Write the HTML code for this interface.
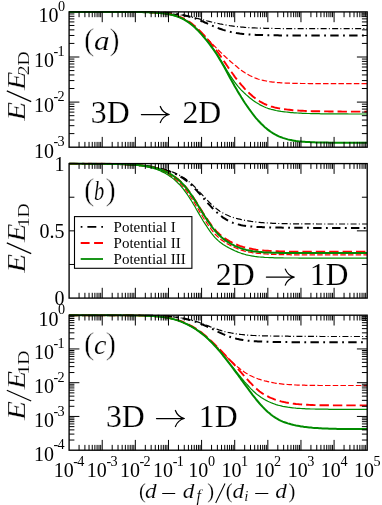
<!DOCTYPE html>
<html><head><meta charset="utf-8"><title>chart</title>
<style>html,body{margin:0;padding:0;background:#fff}svg{display:block;will-change:transform}text{font-family:"Liberation Serif",serif;fill:#000}.cm2{stroke:#fff;stroke-width:0.3px;paint-order:fill stroke}.cm3{stroke:#fff;stroke-width:0.15px;paint-order:fill stroke}.cm4{stroke:#fff;stroke-width:0.12px;paint-order:fill stroke}.cm{stroke:#fff;stroke-width:0.5px;paint-order:fill stroke}</style>
</head><body>
<svg width="382" height="505" viewBox="0 0 382 505">
<rect width="382" height="505" fill="#fff"/>
<clipPath id="clipa"><rect x="69.1" y="10.85" width="298.1" height="137.39999999999998"/></clipPath>
<g clip-path="url(#clipa)" fill="none" stroke-linecap="butt" stroke-linejoin="round">
<path d="M69.1 11.9 L70.8 11.9 L72.4 11.9 L74.1 11.9 L75.7 11.9 L77.4 11.9 L79.0 11.9 L80.7 11.9 L82.3 11.9 L84.0 11.9 L85.7 11.9 L87.3 11.9 L89.0 11.9 L90.6 11.9 L92.3 11.9 L93.9 11.9 L95.6 11.9 L97.3 11.9 L98.9 11.9 L100.6 11.9 L102.2 11.9 L103.9 11.9 L105.5 11.9 L107.2 11.9 L108.8 11.9 L110.5 12.0 L112.2 12.0 L113.8 12.0 L115.5 12.0 L117.1 12.0 L118.8 12.0 L120.4 12.0 L122.1 12.0 L123.8 12.0 L125.4 12.0 L127.1 12.0 L128.7 12.1 L130.4 12.1 L132.0 12.1 L133.7 12.1 L135.3 12.1 L137.0 12.2 L138.7 12.2 L140.3 12.2 L142.0 12.3 L143.6 12.3 L145.3 12.3 L146.9 12.4 L148.6 12.4 L150.2 12.5 L151.9 12.6 L153.6 12.6 L155.2 12.7 L156.9 12.8 L158.5 12.9 L160.2 13.0 L161.8 13.1 L163.5 13.2 L165.2 13.3 L166.8 13.4 L168.5 13.6 L170.1 13.7 L171.8 13.9 L173.4 14.1 L175.1 14.3 L176.7 14.5 L178.4 14.7 L180.1 15.0 L181.7 15.2 L183.4 15.5 L185.0 15.8 L186.7 16.1 L188.3 16.4 L190.0 16.8 L191.7 17.1 L193.3 17.5 L195.0 17.9 L196.6 18.3 L198.3 18.7 L199.9 19.1 L201.6 19.5 L203.2 19.9 L204.9 20.3 L206.6 20.7 L208.2 21.2 L209.9 21.6 L211.5 22.0 L213.2 22.4 L214.8 22.8 L216.5 23.2 L218.2 23.5 L219.8 23.9 L221.5 24.2 L223.1 24.5 L224.8 24.8 L226.4 25.1 L228.1 25.4 L229.7 25.7 L231.4 25.9 L233.1 26.1 L234.7 26.4 L236.4 26.5 L238.0 26.7 L239.7 26.9 L241.3 27.1 L243.0 27.2 L244.6 27.3 L246.3 27.5 L248.0 27.6 L249.6 27.7 L251.3 27.8 L252.9 27.9 L254.6 27.9 L256.2 28.0 L257.9 28.1 L259.6 28.1 L261.2 28.2 L262.9 28.2 L264.5 28.3 L266.2 28.3 L267.8 28.4 L269.5 28.4 L271.1 28.4 L272.8 28.5 L274.5 28.5 L276.1 28.5 L277.8 28.5 L279.4 28.5 L281.1 28.6 L282.7 28.6 L284.4 28.6 L286.1 28.6 L287.7 28.6 L289.4 28.6 L291.0 28.6 L292.7 28.6 L294.3 28.7 L296.0 28.7 L297.6 28.7 L299.3 28.7 L301.0 28.7 L302.6 28.7 L304.3 28.7 L305.9 28.7 L307.6 28.7 L309.2 28.7 L310.9 28.7 L312.5 28.7 L314.2 28.7 L315.9 28.7 L317.5 28.7 L319.2 28.7 L320.8 28.7 L322.5 28.7 L324.1 28.7 L325.8 28.7 L327.5 28.7 L329.1 28.7 L330.8 28.7 L332.4 28.7 L334.1 28.7 L335.7 28.7 L337.4 28.7 L339.0 28.7 L340.7 28.7 L342.4 28.7 L344.0 28.7 L345.7 28.7 L347.3 28.7 L349.0 28.7 L350.6 28.7 L352.3 28.7 L354.0 28.7 L355.6 28.7 L357.3 28.7 L358.9 28.7 L360.6 28.7 L362.2 28.7 L363.9 28.7 L365.5 28.7 L367.2 28.7" stroke="#000" stroke-width="1.2" stroke-dasharray="6 2.2 1 2.3"/>
<path d="M69.1 11.9 L70.8 11.9 L72.4 11.9 L74.1 11.9 L75.7 11.9 L77.4 11.9 L79.0 11.9 L80.7 11.9 L82.3 11.9 L84.0 11.9 L85.7 11.9 L87.3 11.9 L89.0 11.9 L90.6 11.9 L92.3 11.9 L93.9 11.9 L95.6 11.9 L97.3 11.9 L98.9 11.9 L100.6 11.9 L102.2 11.9 L103.9 11.9 L105.5 11.9 L107.2 11.9 L108.8 11.9 L110.5 11.9 L112.2 11.9 L113.8 11.9 L115.5 11.9 L117.1 11.9 L118.8 11.9 L120.4 11.9 L122.1 11.9 L123.8 11.9 L125.4 11.9 L127.1 11.9 L128.7 12.0 L130.4 12.0 L132.0 12.0 L133.7 12.0 L135.3 12.0 L137.0 12.0 L138.7 12.0 L140.3 12.0 L142.0 12.0 L143.6 12.1 L145.3 12.1 L146.9 12.1 L148.6 12.1 L150.2 12.2 L151.9 12.2 L153.6 12.3 L155.2 12.3 L156.9 12.4 L158.5 12.4 L160.2 12.5 L161.8 12.6 L163.5 12.7 L165.2 12.8 L166.8 12.9 L168.5 13.0 L170.1 13.2 L171.8 13.3 L173.4 13.5 L175.1 13.7 L176.7 13.9 L178.4 14.2 L180.1 14.5 L181.7 14.8 L183.4 15.1 L185.0 15.5 L186.7 15.9 L188.3 16.3 L190.0 16.8 L191.7 17.3 L193.3 17.8 L195.0 18.4 L196.6 19.0 L198.3 19.7 L199.9 20.3 L201.6 21.0 L203.2 21.7 L204.9 22.5 L206.6 23.2 L208.2 23.9 L209.9 24.7 L211.5 25.4 L213.2 26.1 L214.8 26.8 L216.5 27.5 L218.2 28.1 L219.8 28.7 L221.5 29.3 L223.1 29.9 L224.8 30.4 L226.4 30.9 L228.1 31.3 L229.7 31.7 L231.4 32.1 L233.1 32.5 L234.7 32.8 L236.4 33.1 L238.0 33.3 L239.7 33.6 L241.3 33.8 L243.0 34.0 L244.6 34.1 L246.3 34.3 L248.0 34.4 L249.6 34.5 L251.3 34.6 L252.9 34.7 L254.6 34.8 L256.2 34.9 L257.9 35.0 L259.6 35.0 L261.2 35.1 L262.9 35.1 L264.5 35.2 L266.2 35.2 L267.8 35.2 L269.5 35.2 L271.1 35.3 L272.8 35.3 L274.5 35.3 L276.1 35.3 L277.8 35.3 L279.4 35.4 L281.1 35.4 L282.7 35.4 L284.4 35.4 L286.1 35.4 L287.7 35.4 L289.4 35.4 L291.0 35.4 L292.7 35.4 L294.3 35.4 L296.0 35.4 L297.6 35.4 L299.3 35.4 L301.0 35.4 L302.6 35.4 L304.3 35.4 L305.9 35.4 L307.6 35.4 L309.2 35.4 L310.9 35.4 L312.5 35.4 L314.2 35.4 L315.9 35.4 L317.5 35.4 L319.2 35.4 L320.8 35.4 L322.5 35.4 L324.1 35.4 L325.8 35.4 L327.5 35.4 L329.1 35.4 L330.8 35.4 L332.4 35.4 L334.1 35.4 L335.7 35.4 L337.4 35.4 L339.0 35.4 L340.7 35.4 L342.4 35.4 L344.0 35.4 L345.7 35.4 L347.3 35.4 L349.0 35.4 L350.6 35.4 L352.3 35.4 L354.0 35.4 L355.6 35.4 L357.3 35.4 L358.9 35.4 L360.6 35.4 L362.2 35.4 L363.9 35.4 L365.5 35.4 L367.2 35.4" stroke="#000" stroke-width="2.0" stroke-dasharray="8.4 4.4 1.8 4.3"/>
<path d="M69.1 11.9 L70.8 11.9 L72.4 11.9 L74.1 11.9 L75.7 11.9 L77.4 11.9 L79.0 11.9 L80.7 11.9 L82.3 11.9 L84.0 11.9 L85.7 11.9 L87.3 11.9 L89.0 11.9 L90.6 11.9 L92.3 11.9 L93.9 11.9 L95.6 11.9 L97.3 11.9 L98.9 11.9 L100.6 11.9 L102.2 11.9 L103.9 11.9 L105.5 11.9 L107.2 11.9 L108.8 11.9 L110.5 11.9 L112.2 11.9 L113.8 11.9 L115.5 11.9 L117.1 11.9 L118.8 11.9 L120.4 11.9 L122.1 11.9 L123.8 11.9 L125.4 12.0 L127.1 12.0 L128.7 12.0 L130.4 12.0 L132.0 12.0 L133.7 12.0 L135.3 12.0 L137.0 12.1 L138.7 12.1 L140.3 12.1 L142.0 12.1 L143.6 12.2 L145.3 12.2 L146.9 12.3 L148.6 12.3 L150.2 12.4 L151.9 12.4 L153.6 12.5 L155.2 12.6 L156.9 12.7 L158.5 12.9 L160.2 13.0 L161.8 13.2 L163.5 13.4 L165.2 13.6 L166.8 13.8 L168.5 14.1 L170.1 14.4 L171.8 14.8 L173.4 15.2 L175.1 15.7 L176.7 16.2 L178.4 16.8 L180.1 17.4 L181.7 18.1 L183.4 18.9 L185.0 19.8 L186.7 20.8 L188.3 21.9 L190.0 23.0 L191.7 24.2 L193.3 25.6 L195.0 27.0 L196.6 28.5 L198.3 30.0 L199.9 31.6 L201.6 33.2 L203.2 34.8 L204.9 36.4 L206.6 38.1 L208.2 39.7 L209.9 41.4 L211.5 43.1 L213.2 44.8 L214.8 46.4 L216.5 48.1 L218.2 49.8 L219.8 51.5 L221.5 53.1 L223.1 54.7 L224.8 56.3 L226.4 57.8 L228.1 59.3 L229.7 60.7 L231.4 62.2 L233.1 63.6 L234.7 65.0 L236.4 66.3 L238.0 67.7 L239.7 69.0 L241.3 70.2 L243.0 71.4 L244.6 72.6 L246.3 73.6 L248.0 74.6 L249.6 75.5 L251.3 76.3 L252.9 77.1 L254.6 77.8 L256.2 78.4 L257.9 79.0 L259.6 79.5 L261.2 79.9 L262.9 80.3 L264.5 80.7 L266.2 81.0 L267.8 81.3 L269.5 81.6 L271.1 81.8 L272.8 82.1 L274.5 82.2 L276.1 82.4 L277.8 82.6 L279.4 82.7 L281.1 82.8 L282.7 82.9 L284.4 83.0 L286.1 83.1 L287.7 83.1 L289.4 83.2 L291.0 83.3 L292.7 83.3 L294.3 83.3 L296.0 83.4 L297.6 83.4 L299.3 83.4 L301.0 83.5 L302.6 83.5 L304.3 83.5 L305.9 83.5 L307.6 83.5 L309.2 83.6 L310.9 83.6 L312.5 83.6 L314.2 83.6 L315.9 83.6 L317.5 83.6 L319.2 83.6 L320.8 83.6 L322.5 83.6 L324.1 83.6 L325.8 83.6 L327.5 83.6 L329.1 83.6 L330.8 83.6 L332.4 83.6 L334.1 83.6 L335.7 83.6 L337.4 83.6 L339.0 83.6 L340.7 83.6 L342.4 83.7 L344.0 83.7 L345.7 83.7 L347.3 83.7 L349.0 83.7 L350.6 83.7 L352.3 83.7 L354.0 83.7 L355.6 83.7 L357.3 83.7 L358.9 83.7 L360.6 83.7 L362.2 83.7 L363.9 83.7 L365.5 83.7 L367.2 83.7" stroke="#f00" stroke-width="1.2" stroke-dasharray="5.5 2.2"/>
<path d="M69.1 11.9 L70.8 11.9 L72.4 11.9 L74.1 11.9 L75.7 11.9 L77.4 11.9 L79.0 11.9 L80.7 11.9 L82.3 11.9 L84.0 11.9 L85.7 11.9 L87.3 11.9 L89.0 11.9 L90.6 11.9 L92.3 11.9 L93.9 11.9 L95.6 11.9 L97.3 11.9 L98.9 11.9 L100.6 11.9 L102.2 11.9 L103.9 11.9 L105.5 11.9 L107.2 11.9 L108.8 11.9 L110.5 11.9 L112.2 11.9 L113.8 11.9 L115.5 11.9 L117.1 11.9 L118.8 11.9 L120.4 11.9 L122.1 11.9 L123.8 11.9 L125.4 12.0 L127.1 12.0 L128.7 12.0 L130.4 12.0 L132.0 12.0 L133.7 12.0 L135.3 12.0 L137.0 12.0 L138.7 12.1 L140.3 12.1 L142.0 12.1 L143.6 12.1 L145.3 12.2 L146.9 12.2 L148.6 12.3 L150.2 12.3 L151.9 12.4 L153.6 12.5 L155.2 12.6 L156.9 12.7 L158.5 12.8 L160.2 12.9 L161.8 13.1 L163.5 13.2 L165.2 13.4 L166.8 13.7 L168.5 13.9 L170.1 14.2 L171.8 14.6 L173.4 14.9 L175.1 15.4 L176.7 15.9 L178.4 16.4 L180.1 17.0 L181.7 17.7 L183.4 18.4 L185.0 19.3 L186.7 20.2 L188.3 21.2 L190.0 22.3 L191.7 23.6 L193.3 24.9 L195.0 26.3 L196.6 27.7 L198.3 29.3 L199.9 30.9 L201.6 32.7 L203.2 34.4 L204.9 36.2 L206.6 38.1 L208.2 40.0 L209.9 42.0 L211.5 44.0 L213.2 46.1 L214.8 48.3 L216.5 50.5 L218.2 52.8 L219.8 55.1 L221.5 57.5 L223.1 60.0 L224.8 62.4 L226.4 64.8 L228.1 67.3 L229.7 69.7 L231.4 72.0 L233.1 74.3 L234.7 76.6 L236.4 78.8 L238.0 80.9 L239.7 82.9 L241.3 84.9 L243.0 86.7 L244.6 88.6 L246.3 90.3 L248.0 92.0 L249.6 93.5 L251.3 95.0 L252.9 96.5 L254.6 97.8 L256.2 99.0 L257.9 100.2 L259.6 101.3 L261.2 102.2 L262.9 103.1 L264.5 104.0 L266.2 104.7 L267.8 105.4 L269.5 105.9 L271.1 106.5 L272.8 106.9 L274.5 107.4 L276.1 107.8 L277.8 108.1 L279.4 108.4 L281.1 108.7 L282.7 109.0 L284.4 109.2 L286.1 109.4 L287.7 109.6 L289.4 109.8 L291.0 110.0 L292.7 110.2 L294.3 110.3 L296.0 110.4 L297.6 110.5 L299.3 110.6 L301.0 110.7 L302.6 110.8 L304.3 110.9 L305.9 111.0 L307.6 111.0 L309.2 111.1 L310.9 111.1 L312.5 111.2 L314.2 111.2 L315.9 111.3 L317.5 111.3 L319.2 111.3 L320.8 111.4 L322.5 111.4 L324.1 111.4 L325.8 111.4 L327.5 111.4 L329.1 111.5 L330.8 111.5 L332.4 111.5 L334.1 111.5 L335.7 111.5 L337.4 111.5 L339.0 111.5 L340.7 111.5 L342.4 111.6 L344.0 111.6 L345.7 111.6 L347.3 111.6 L349.0 111.6 L350.6 111.6 L352.3 111.6 L354.0 111.6 L355.6 111.6 L357.3 111.6 L358.9 111.6 L360.6 111.6 L362.2 111.6 L363.9 111.6 L365.5 111.6 L367.2 111.6" stroke="#f00" stroke-width="1.9" stroke-dasharray="9.4 4.0"/>
<path d="M69.1 11.9 L70.8 11.9 L72.4 11.9 L74.1 11.9 L75.7 11.9 L77.4 11.9 L79.0 11.9 L80.7 11.9 L82.3 11.9 L84.0 11.9 L85.7 11.9 L87.3 11.9 L89.0 11.9 L90.6 11.9 L92.3 11.9 L93.9 11.9 L95.6 11.9 L97.3 11.9 L98.9 11.9 L100.6 11.9 L102.2 11.9 L103.9 11.9 L105.5 11.9 L107.2 11.9 L108.8 11.9 L110.5 11.9 L112.2 11.9 L113.8 11.9 L115.5 11.9 L117.1 11.9 L118.8 11.9 L120.4 11.9 L122.1 11.9 L123.8 11.9 L125.4 12.0 L127.1 12.0 L128.7 12.0 L130.4 12.0 L132.0 12.0 L133.7 12.0 L135.3 12.0 L137.0 12.1 L138.7 12.1 L140.3 12.1 L142.0 12.1 L143.6 12.2 L145.3 12.2 L146.9 12.3 L148.6 12.3 L150.2 12.4 L151.9 12.5 L153.6 12.5 L155.2 12.6 L156.9 12.8 L158.5 12.9 L160.2 13.0 L161.8 13.2 L163.5 13.4 L165.2 13.6 L166.8 13.9 L168.5 14.2 L170.1 14.5 L171.8 14.9 L173.4 15.3 L175.1 15.8 L176.7 16.3 L178.4 16.9 L180.1 17.6 L181.7 18.3 L183.4 19.1 L185.0 20.0 L186.7 21.0 L188.3 22.1 L190.0 23.3 L191.7 24.6 L193.3 26.0 L195.0 27.5 L196.6 29.0 L198.3 30.7 L199.9 32.4 L201.6 34.3 L203.2 36.1 L204.9 38.1 L206.6 40.1 L208.2 42.1 L209.9 44.2 L211.5 46.4 L213.2 48.7 L214.8 51.0 L216.5 53.4 L218.2 56.0 L219.8 58.6 L221.5 61.2 L223.1 64.0 L224.8 66.7 L226.4 69.5 L228.1 72.2 L229.7 74.9 L231.4 77.4 L233.1 79.9 L234.7 82.2 L236.4 84.4 L238.0 86.4 L239.7 88.3 L241.3 90.1 L243.0 91.7 L244.6 93.3 L246.3 94.9 L248.0 96.3 L249.6 97.7 L251.3 99.0 L252.9 100.3 L254.6 101.5 L256.2 102.6 L257.9 103.6 L259.6 104.6 L261.2 105.4 L262.9 106.2 L264.5 107.0 L266.2 107.7 L267.8 108.3 L269.5 108.8 L271.1 109.3 L272.8 109.7 L274.5 110.1 L276.1 110.5 L277.8 110.8 L279.4 111.1 L281.1 111.4 L282.7 111.6 L284.4 111.8 L286.1 112.0 L287.7 112.2 L289.4 112.4 L291.0 112.6 L292.7 112.7 L294.3 112.8 L296.0 112.9 L297.6 113.0 L299.3 113.1 L301.0 113.2 L302.6 113.3 L304.3 113.4 L305.9 113.4 L307.6 113.5 L309.2 113.5 L310.9 113.6 L312.5 113.6 L314.2 113.7 L315.9 113.7 L317.5 113.7 L319.2 113.7 L320.8 113.8 L322.5 113.8 L324.1 113.8 L325.8 113.8 L327.5 113.8 L329.1 113.9 L330.8 113.9 L332.4 113.9 L334.1 113.9 L335.7 113.9 L337.4 113.9 L339.0 113.9 L340.7 113.9 L342.4 113.9 L344.0 113.9 L345.7 113.9 L347.3 113.9 L349.0 114.0 L350.6 114.0 L352.3 114.0 L354.0 114.0 L355.6 114.0 L357.3 114.0 L358.9 114.0 L360.6 114.0 L362.2 114.0 L363.9 114.0 L365.5 114.0 L367.2 114.0" stroke="#008b00" stroke-width="1.2"/>
<path d="M69.1 11.9 L70.8 11.9 L72.4 11.9 L74.1 11.9 L75.7 11.9 L77.4 11.9 L79.0 11.9 L80.7 11.9 L82.3 11.9 L84.0 11.9 L85.7 11.9 L87.3 11.9 L89.0 11.9 L90.6 11.9 L92.3 11.9 L93.9 11.9 L95.6 11.9 L97.3 11.9 L98.9 11.9 L100.6 11.9 L102.2 11.9 L103.9 11.9 L105.5 11.9 L107.2 11.9 L108.8 11.9 L110.5 11.9 L112.2 11.9 L113.8 11.9 L115.5 11.9 L117.1 11.9 L118.8 11.9 L120.4 11.9 L122.1 11.9 L123.8 11.9 L125.4 12.0 L127.1 12.0 L128.7 12.0 L130.4 12.0 L132.0 12.0 L133.7 12.0 L135.3 12.0 L137.0 12.1 L138.7 12.1 L140.3 12.1 L142.0 12.1 L143.6 12.2 L145.3 12.2 L146.9 12.3 L148.6 12.3 L150.2 12.4 L151.9 12.5 L153.6 12.5 L155.2 12.6 L156.9 12.8 L158.5 12.9 L160.2 13.0 L161.8 13.2 L163.5 13.4 L165.2 13.6 L166.8 13.9 L168.5 14.2 L170.1 14.5 L171.8 14.9 L173.4 15.3 L175.1 15.8 L176.7 16.3 L178.4 16.9 L180.1 17.6 L181.7 18.3 L183.4 19.2 L185.0 20.1 L186.7 21.1 L188.3 22.2 L190.0 23.4 L191.7 24.7 L193.3 26.1 L195.0 27.6 L196.6 29.2 L198.3 30.8 L199.9 32.6 L201.6 34.4 L203.2 36.3 L204.9 38.3 L206.6 40.3 L208.2 42.4 L209.9 44.6 L211.5 46.8 L213.2 49.1 L214.8 51.5 L216.5 54.0 L218.2 56.7 L219.8 59.4 L221.5 62.2 L223.1 65.1 L224.8 68.1 L226.4 71.1 L228.1 74.2 L229.7 77.2 L231.4 80.3 L233.1 83.3 L234.7 86.2 L236.4 89.1 L238.0 91.9 L239.7 94.6 L241.3 97.3 L243.0 99.9 L244.6 102.5 L246.3 105.0 L248.0 107.4 L249.6 109.7 L251.3 112.0 L252.9 114.2 L254.6 116.3 L256.2 118.3 L257.9 120.2 L259.6 122.0 L261.2 123.7 L262.9 125.3 L264.5 126.9 L266.2 128.3 L267.8 129.6 L269.5 130.9 L271.1 132.0 L272.8 133.1 L274.5 134.1 L276.1 135.0 L277.8 135.8 L279.4 136.6 L281.1 137.2 L282.7 137.9 L284.4 138.4 L286.1 138.9 L287.7 139.4 L289.4 139.8 L291.0 140.1 L292.7 140.4 L294.3 140.7 L296.0 141.0 L297.6 141.2 L299.3 141.4 L301.0 141.5 L302.6 141.7 L304.3 141.8 L305.9 141.9 L307.6 142.0 L309.2 142.1 L310.9 142.2 L312.5 142.3 L314.2 142.3 L315.9 142.4 L317.5 142.4 L319.2 142.5 L320.8 142.5 L322.5 142.6 L324.1 142.6 L325.8 142.6 L327.5 142.6 L329.1 142.7 L330.8 142.7 L332.4 142.7 L334.1 142.7 L335.7 142.7 L337.4 142.7 L339.0 142.7 L340.7 142.7 L342.4 142.7 L344.0 142.7 L345.7 142.7 L347.3 142.8 L349.0 142.8 L350.6 142.8 L352.3 142.8 L354.0 142.8 L355.6 142.8 L357.3 142.8 L358.9 142.8 L360.6 142.8 L362.2 142.8 L363.9 142.8 L365.5 142.8 L367.2 142.8" stroke="#008b00" stroke-width="2.0"/>
</g>
<path d="M79.07 11.9 v5.3 M79.07 147.2 v-5.3 M84.90 11.9 v5.3 M84.90 147.2 v-5.3 M89.04 11.9 v5.3 M89.04 147.2 v-5.3 M92.25 11.9 v5.3 M92.25 147.2 v-5.3 M94.87 11.9 v5.3 M94.87 147.2 v-5.3 M97.09 11.9 v5.3 M97.09 147.2 v-5.3 M99.01 11.9 v5.3 M99.01 147.2 v-5.3 M100.71 11.9 v5.3 M100.71 147.2 v-5.3 M102.22 11.9 v10.3 M102.22 147.2 v-10.3 M112.19 11.9 v5.3 M112.19 147.2 v-5.3 M118.03 11.9 v5.3 M118.03 147.2 v-5.3 M122.16 11.9 v5.3 M122.16 147.2 v-5.3 M125.37 11.9 v5.3 M125.37 147.2 v-5.3 M128.00 11.9 v5.3 M128.00 147.2 v-5.3 M130.21 11.9 v5.3 M130.21 147.2 v-5.3 M132.13 11.9 v5.3 M132.13 147.2 v-5.3 M133.83 11.9 v5.3 M133.83 147.2 v-5.3 M135.34 11.9 v10.3 M135.34 147.2 v-10.3 M145.32 11.9 v5.3 M145.32 147.2 v-5.3 M151.15 11.9 v5.3 M151.15 147.2 v-5.3 M155.29 11.9 v5.3 M155.29 147.2 v-5.3 M158.50 11.9 v5.3 M158.50 147.2 v-5.3 M161.12 11.9 v5.3 M161.12 147.2 v-5.3 M163.34 11.9 v5.3 M163.34 147.2 v-5.3 M165.26 11.9 v5.3 M165.26 147.2 v-5.3 M166.95 11.9 v5.3 M166.95 147.2 v-5.3 M168.47 11.9 v10.3 M168.47 147.2 v-10.3 M178.44 11.9 v5.3 M178.44 147.2 v-5.3 M184.27 11.9 v5.3 M184.27 147.2 v-5.3 M188.41 11.9 v5.3 M188.41 147.2 v-5.3 M191.62 11.9 v5.3 M191.62 147.2 v-5.3 M194.24 11.9 v5.3 M194.24 147.2 v-5.3 M196.46 11.9 v5.3 M196.46 147.2 v-5.3 M198.38 11.9 v5.3 M198.38 147.2 v-5.3 M200.07 11.9 v5.3 M200.07 147.2 v-5.3 M201.59 11.9 v10.3 M201.59 147.2 v-10.3 M211.56 11.9 v5.3 M211.56 147.2 v-5.3 M217.39 11.9 v5.3 M217.39 147.2 v-5.3 M221.53 11.9 v5.3 M221.53 147.2 v-5.3 M224.74 11.9 v5.3 M224.74 147.2 v-5.3 M227.36 11.9 v5.3 M227.36 147.2 v-5.3 M229.58 11.9 v5.3 M229.58 147.2 v-5.3 M231.50 11.9 v5.3 M231.50 147.2 v-5.3 M233.20 11.9 v5.3 M233.20 147.2 v-5.3 M234.71 11.9 v10.3 M234.71 147.2 v-10.3 M244.68 11.9 v5.3 M244.68 147.2 v-5.3 M250.51 11.9 v5.3 M250.51 147.2 v-5.3 M254.65 11.9 v5.3 M254.65 147.2 v-5.3 M257.86 11.9 v5.3 M257.86 147.2 v-5.3 M260.49 11.9 v5.3 M260.49 147.2 v-5.3 M262.70 11.9 v5.3 M262.70 147.2 v-5.3 M264.62 11.9 v5.3 M264.62 147.2 v-5.3 M266.32 11.9 v5.3 M266.32 147.2 v-5.3 M267.83 11.9 v10.3 M267.83 147.2 v-10.3 M277.80 11.9 v5.3 M277.80 147.2 v-5.3 M283.64 11.9 v5.3 M283.64 147.2 v-5.3 M287.77 11.9 v5.3 M287.77 147.2 v-5.3 M290.98 11.9 v5.3 M290.98 147.2 v-5.3 M293.61 11.9 v5.3 M293.61 147.2 v-5.3 M295.82 11.9 v5.3 M295.82 147.2 v-5.3 M297.75 11.9 v5.3 M297.75 147.2 v-5.3 M299.44 11.9 v5.3 M299.44 147.2 v-5.3 M300.96 11.9 v10.3 M300.96 147.2 v-10.3 M310.93 11.9 v5.3 M310.93 147.2 v-5.3 M316.76 11.9 v5.3 M316.76 147.2 v-5.3 M320.90 11.9 v5.3 M320.90 147.2 v-5.3 M324.11 11.9 v5.3 M324.11 147.2 v-5.3 M326.73 11.9 v5.3 M326.73 147.2 v-5.3 M328.95 11.9 v5.3 M328.95 147.2 v-5.3 M330.87 11.9 v5.3 M330.87 147.2 v-5.3 M332.56 11.9 v5.3 M332.56 147.2 v-5.3 M334.08 11.9 v10.3 M334.08 147.2 v-10.3 M344.05 11.9 v5.3 M344.05 147.2 v-5.3 M349.88 11.9 v5.3 M349.88 147.2 v-5.3 M354.02 11.9 v5.3 M354.02 147.2 v-5.3 M357.23 11.9 v5.3 M357.23 147.2 v-5.3 M359.85 11.9 v5.3 M359.85 147.2 v-5.3 M362.07 11.9 v5.3 M362.07 147.2 v-5.3 M363.99 11.9 v5.3 M363.99 147.2 v-5.3 M365.68 11.9 v5.3 M365.68 147.2 v-5.3 M69.1 43.42 h5.3 M367.2 43.42 h-5.3 M69.1 35.48 h5.3 M367.2 35.48 h-5.3 M69.1 29.85 h5.3 M367.2 29.85 h-5.3 M69.1 25.48 h5.3 M367.2 25.48 h-5.3 M69.1 21.91 h5.3 M367.2 21.91 h-5.3 M69.1 18.89 h5.3 M367.2 18.89 h-5.3 M69.1 16.27 h5.3 M367.2 16.27 h-5.3 M69.1 13.96 h5.3 M367.2 13.96 h-5.3 M69.1 57.00 h10.3 M367.2 57.00 h-10.3 M69.1 88.52 h5.3 M367.2 88.52 h-5.3 M69.1 80.58 h5.3 M367.2 80.58 h-5.3 M69.1 74.95 h5.3 M367.2 74.95 h-5.3 M69.1 70.58 h5.3 M367.2 70.58 h-5.3 M69.1 67.01 h5.3 M367.2 67.01 h-5.3 M69.1 63.99 h5.3 M367.2 63.99 h-5.3 M69.1 61.37 h5.3 M367.2 61.37 h-5.3 M69.1 59.06 h5.3 M367.2 59.06 h-5.3 M69.1 102.10 h10.3 M367.2 102.10 h-10.3 M69.1 133.62 h5.3 M367.2 133.62 h-5.3 M69.1 125.68 h5.3 M367.2 125.68 h-5.3 M69.1 120.05 h5.3 M367.2 120.05 h-5.3 M69.1 115.68 h5.3 M367.2 115.68 h-5.3 M69.1 112.11 h5.3 M367.2 112.11 h-5.3 M69.1 109.09 h5.3 M367.2 109.09 h-5.3 M69.1 106.47 h5.3 M367.2 106.47 h-5.3 M69.1 104.16 h5.3 M367.2 104.16 h-5.3" stroke="#000" stroke-width="1.0" fill="none"/>
<rect x="69.1" y="11.9" width="298.1" height="135.29999999999998" fill="none" stroke="#000" stroke-width="1.35"/>
<clipPath id="clipb"><rect x="69.1" y="162.54999999999998" width="298.1" height="136.60000000000002"/></clipPath>
<g clip-path="url(#clipb)" fill="none" stroke-linecap="butt" stroke-linejoin="round">
<path d="M69.1 163.6 L70.8 163.6 L72.4 163.6 L74.1 163.6 L75.7 163.7 L77.4 163.7 L79.0 163.7 L80.7 163.7 L82.3 163.7 L84.0 163.7 L85.7 163.7 L87.3 163.7 L89.0 163.7 L90.6 163.7 L92.3 163.7 L93.9 163.7 L95.6 163.7 L97.3 163.8 L98.9 163.8 L100.6 163.8 L102.2 163.8 L103.9 163.8 L105.5 163.9 L107.2 163.9 L108.8 163.9 L110.5 163.9 L112.2 164.0 L113.8 164.0 L115.5 164.0 L117.1 164.1 L118.8 164.1 L120.4 164.2 L122.1 164.2 L123.8 164.3 L125.4 164.3 L127.1 164.4 L128.7 164.5 L130.4 164.6 L132.0 164.7 L133.7 164.8 L135.3 164.9 L137.0 165.0 L138.7 165.1 L140.3 165.3 L142.0 165.4 L143.6 165.6 L145.3 165.8 L146.9 166.0 L148.6 166.2 L150.2 166.4 L151.9 166.6 L153.6 166.9 L155.2 167.2 L156.9 167.5 L158.5 167.9 L160.2 168.2 L161.8 168.6 L163.5 169.1 L165.2 169.5 L166.8 170.0 L168.5 170.6 L170.1 171.2 L171.8 171.8 L173.4 172.4 L175.1 173.1 L176.7 173.9 L178.4 174.7 L180.1 175.6 L181.7 176.5 L183.4 177.5 L185.0 178.6 L186.7 179.8 L188.3 181.1 L190.0 182.5 L191.7 184.0 L193.3 185.5 L195.0 187.1 L196.6 188.8 L198.3 190.5 L199.9 192.3 L201.6 194.1 L203.2 195.9 L204.9 197.6 L206.6 199.4 L208.2 201.2 L209.9 202.9 L211.5 204.5 L213.2 206.0 L214.8 207.5 L216.5 208.8 L218.2 210.0 L219.8 211.2 L221.5 212.2 L223.1 213.1 L224.8 214.0 L226.4 214.8 L228.1 215.5 L229.7 216.2 L231.4 216.8 L233.1 217.4 L234.7 217.9 L236.4 218.4 L238.0 218.8 L239.7 219.2 L241.3 219.6 L243.0 220.0 L244.6 220.3 L246.3 220.6 L248.0 220.8 L249.6 221.1 L251.3 221.4 L252.9 221.6 L254.6 221.8 L256.2 222.0 L257.9 222.2 L259.6 222.4 L261.2 222.6 L262.9 222.7 L264.5 222.8 L266.2 222.9 L267.8 223.0 L269.5 223.1 L271.1 223.2 L272.8 223.3 L274.5 223.4 L276.1 223.4 L277.8 223.5 L279.4 223.5 L281.1 223.6 L282.7 223.6 L284.4 223.7 L286.1 223.7 L287.7 223.7 L289.4 223.8 L291.0 223.8 L292.7 223.8 L294.3 223.8 L296.0 223.8 L297.6 223.9 L299.3 223.9 L301.0 223.9 L302.6 223.9 L304.3 223.9 L305.9 223.9 L307.6 223.9 L309.2 223.9 L310.9 223.9 L312.5 223.9 L314.2 223.9 L315.9 223.9 L317.5 224.0 L319.2 224.0 L320.8 224.0 L322.5 224.0 L324.1 224.0 L325.8 224.0 L327.5 224.0 L329.1 224.0 L330.8 224.0 L332.4 224.0 L334.1 224.0 L335.7 224.0 L337.4 224.0 L339.0 224.0 L340.7 224.0 L342.4 224.0 L344.0 224.0 L345.7 224.0 L347.3 224.0 L349.0 224.0 L350.6 224.0 L352.3 224.0 L354.0 224.0 L355.6 224.0 L357.3 224.0 L358.9 224.0 L360.6 224.0 L362.2 224.0 L363.9 224.0 L365.5 224.0 L367.2 224.0" stroke="#000" stroke-width="1.2" stroke-dasharray="6 2.2 1 2.3"/>
<path d="M69.1 163.6 L70.8 163.6 L72.4 163.6 L74.1 163.6 L75.7 163.7 L77.4 163.7 L79.0 163.7 L80.7 163.7 L82.3 163.7 L84.0 163.7 L85.7 163.7 L87.3 163.7 L89.0 163.7 L90.6 163.7 L92.3 163.7 L93.9 163.7 L95.6 163.8 L97.3 163.8 L98.9 163.8 L100.6 163.8 L102.2 163.8 L103.9 163.8 L105.5 163.9 L107.2 163.9 L108.8 163.9 L110.5 164.0 L112.2 164.0 L113.8 164.0 L115.5 164.1 L117.1 164.1 L118.8 164.2 L120.4 164.2 L122.1 164.3 L123.8 164.3 L125.4 164.4 L127.1 164.5 L128.7 164.6 L130.4 164.6 L132.0 164.7 L133.7 164.8 L135.3 165.0 L137.0 165.1 L138.7 165.2 L140.3 165.4 L142.0 165.5 L143.6 165.7 L145.3 165.9 L146.9 166.1 L148.6 166.3 L150.2 166.6 L151.9 166.8 L153.6 167.1 L155.2 167.4 L156.9 167.8 L158.5 168.1 L160.2 168.5 L161.8 169.0 L163.5 169.4 L165.2 169.9 L166.8 170.5 L168.5 171.0 L170.1 171.6 L171.8 172.3 L173.4 173.0 L175.1 173.7 L176.7 174.5 L178.4 175.4 L180.1 176.3 L181.7 177.3 L183.4 178.4 L185.0 179.6 L186.7 180.9 L188.3 182.2 L190.0 183.7 L191.7 185.3 L193.3 186.9 L195.0 188.7 L196.6 190.4 L198.3 192.3 L199.9 194.1 L201.6 196.0 L203.2 197.9 L204.9 199.8 L206.6 201.7 L208.2 203.6 L209.9 205.4 L211.5 207.2 L213.2 208.9 L214.8 210.5 L216.5 212.1 L218.2 213.6 L219.8 215.0 L221.5 216.3 L223.1 217.6 L224.8 218.7 L226.4 219.7 L228.1 220.7 L229.7 221.5 L231.4 222.2 L233.1 222.9 L234.7 223.5 L236.4 224.0 L238.0 224.4 L239.7 224.8 L241.3 225.2 L243.0 225.5 L244.6 225.7 L246.3 226.0 L248.0 226.2 L249.6 226.4 L251.3 226.5 L252.9 226.7 L254.6 226.8 L256.2 226.9 L257.9 227.0 L259.6 227.1 L261.2 227.1 L262.9 227.2 L264.5 227.3 L266.2 227.3 L267.8 227.4 L269.5 227.4 L271.1 227.5 L272.8 227.5 L274.5 227.5 L276.1 227.6 L277.8 227.6 L279.4 227.6 L281.1 227.6 L282.7 227.7 L284.4 227.7 L286.1 227.7 L287.7 227.7 L289.4 227.7 L291.0 227.8 L292.7 227.8 L294.3 227.8 L296.0 227.8 L297.6 227.8 L299.3 227.8 L301.0 227.8 L302.6 227.8 L304.3 227.8 L305.9 227.8 L307.6 227.8 L309.2 227.8 L310.9 227.8 L312.5 227.9 L314.2 227.9 L315.9 227.9 L317.5 227.9 L319.2 227.9 L320.8 227.9 L322.5 227.9 L324.1 227.9 L325.8 227.9 L327.5 227.9 L329.1 227.9 L330.8 227.9 L332.4 227.9 L334.1 227.9 L335.7 227.9 L337.4 227.9 L339.0 227.9 L340.7 227.9 L342.4 227.9 L344.0 227.9 L345.7 227.9 L347.3 227.9 L349.0 227.9 L350.6 227.9 L352.3 227.9 L354.0 227.9 L355.6 227.9 L357.3 227.9 L358.9 227.9 L360.6 227.9 L362.2 227.9 L363.9 227.9 L365.5 227.9 L367.2 227.9" stroke="#000" stroke-width="2.0" stroke-dasharray="8.4 4.4 1.8 4.3"/>
<path d="M69.1 163.6 L70.8 163.6 L72.4 163.6 L74.1 163.6 L75.7 163.6 L77.4 163.6 L79.0 163.6 L80.7 163.6 L82.3 163.6 L84.0 163.7 L85.7 163.7 L87.3 163.7 L89.0 163.7 L90.6 163.7 L92.3 163.7 L93.9 163.7 L95.6 163.7 L97.3 163.7 L98.9 163.7 L100.6 163.8 L102.2 163.8 L103.9 163.8 L105.5 163.8 L107.2 163.8 L108.8 163.9 L110.5 163.9 L112.2 163.9 L113.8 164.0 L115.5 164.0 L117.1 164.0 L118.8 164.1 L120.4 164.1 L122.1 164.2 L123.8 164.3 L125.4 164.3 L127.1 164.4 L128.7 164.5 L130.4 164.6 L132.0 164.7 L133.7 164.9 L135.3 165.0 L137.0 165.2 L138.7 165.3 L140.3 165.5 L142.0 165.7 L143.6 166.0 L145.3 166.2 L146.9 166.5 L148.6 166.8 L150.2 167.2 L151.9 167.6 L153.6 168.0 L155.2 168.4 L156.9 169.0 L158.5 169.5 L160.2 170.1 L161.8 170.8 L163.5 171.6 L165.2 172.4 L166.8 173.2 L168.5 174.2 L170.1 175.2 L171.8 176.4 L173.4 177.6 L175.1 178.9 L176.7 180.3 L178.4 181.8 L180.1 183.4 L181.7 185.2 L183.4 187.1 L185.0 189.1 L186.7 191.2 L188.3 193.5 L190.0 196.0 L191.7 198.5 L193.3 201.1 L195.0 203.8 L196.6 206.6 L198.3 209.3 L199.9 212.1 L201.6 214.8 L203.2 217.5 L204.9 220.2 L206.6 222.7 L208.2 225.2 L209.9 227.5 L211.5 229.7 L213.2 231.8 L214.8 233.8 L216.5 235.5 L218.2 237.1 L219.8 238.6 L221.5 239.9 L223.1 241.1 L224.8 242.3 L226.4 243.3 L228.1 244.2 L229.7 245.1 L231.4 246.0 L233.1 246.8 L234.7 247.5 L236.4 248.2 L238.0 248.9 L239.7 249.5 L241.3 250.1 L243.0 250.6 L244.6 251.1 L246.3 251.5 L248.0 251.9 L249.6 252.2 L251.3 252.5 L252.9 252.8 L254.6 253.0 L256.2 253.2 L257.9 253.4 L259.6 253.5 L261.2 253.7 L262.9 253.8 L264.5 253.9 L266.2 254.0 L267.8 254.1 L269.5 254.2 L271.1 254.3 L272.8 254.4 L274.5 254.4 L276.1 254.5 L277.8 254.5 L279.4 254.6 L281.1 254.6 L282.7 254.6 L284.4 254.7 L286.1 254.7 L287.7 254.7 L289.4 254.7 L291.0 254.8 L292.7 254.8 L294.3 254.8 L296.0 254.8 L297.6 254.8 L299.3 254.8 L301.0 254.8 L302.6 254.9 L304.3 254.9 L305.9 254.9 L307.6 254.9 L309.2 254.9 L310.9 254.9 L312.5 254.9 L314.2 254.9 L315.9 254.9 L317.5 254.9 L319.2 254.9 L320.8 254.9 L322.5 254.9 L324.1 254.9 L325.8 254.9 L327.5 254.9 L329.1 254.9 L330.8 254.9 L332.4 254.9 L334.1 254.9 L335.7 254.9 L337.4 254.9 L339.0 254.9 L340.7 254.9 L342.4 254.9 L344.0 254.9 L345.7 254.9 L347.3 254.9 L349.0 254.9 L350.6 254.9 L352.3 254.9 L354.0 254.9 L355.6 254.9 L357.3 254.9 L358.9 254.9 L360.6 254.9 L362.2 254.9 L363.9 254.9 L365.5 254.9 L367.2 254.9" stroke="#f00" stroke-width="1.2" stroke-dasharray="5.5 2.2"/>
<path d="M69.1 163.6 L70.8 163.6 L72.4 163.6 L74.1 163.6 L75.7 163.6 L77.4 163.6 L79.0 163.6 L80.7 163.6 L82.3 163.6 L84.0 163.6 L85.7 163.7 L87.3 163.7 L89.0 163.7 L90.6 163.7 L92.3 163.7 L93.9 163.7 L95.6 163.7 L97.3 163.7 L98.9 163.7 L100.6 163.7 L102.2 163.7 L103.9 163.8 L105.5 163.8 L107.2 163.8 L108.8 163.8 L110.5 163.8 L112.2 163.9 L113.8 163.9 L115.5 163.9 L117.1 164.0 L118.8 164.0 L120.4 164.1 L122.1 164.1 L123.8 164.2 L125.4 164.2 L127.1 164.3 L128.7 164.4 L130.4 164.5 L132.0 164.6 L133.7 164.7 L135.3 164.8 L137.0 164.9 L138.7 165.1 L140.3 165.3 L142.0 165.4 L143.6 165.6 L145.3 165.9 L146.9 166.1 L148.6 166.4 L150.2 166.7 L151.9 167.0 L153.6 167.4 L155.2 167.8 L156.9 168.2 L158.5 168.7 L160.2 169.3 L161.8 169.9 L163.5 170.5 L165.2 171.2 L166.8 172.0 L168.5 172.8 L170.1 173.8 L171.8 174.7 L173.4 175.8 L175.1 177.0 L176.7 178.2 L178.4 179.6 L180.1 181.1 L181.7 182.7 L183.4 184.4 L185.0 186.2 L186.7 188.2 L188.3 190.3 L190.0 192.6 L191.7 194.9 L193.3 197.4 L195.0 200.0 L196.6 202.6 L198.3 205.2 L199.9 207.9 L201.6 210.5 L203.2 213.2 L204.9 215.8 L206.6 218.3 L208.2 220.8 L209.9 223.1 L211.5 225.4 L213.2 227.5 L214.8 229.5 L216.5 231.3 L218.2 233.0 L219.8 234.5 L221.5 235.9 L223.1 237.2 L224.8 238.3 L226.4 239.4 L228.1 240.4 L229.7 241.3 L231.4 242.2 L233.1 243.0 L234.7 243.8 L236.4 244.5 L238.0 245.2 L239.7 245.8 L241.3 246.3 L243.0 246.9 L244.6 247.3 L246.3 247.8 L248.0 248.2 L249.6 248.5 L251.3 248.8 L252.9 249.1 L254.6 249.4 L256.2 249.7 L257.9 249.9 L259.6 250.1 L261.2 250.3 L262.9 250.4 L264.5 250.6 L266.2 250.7 L267.8 250.8 L269.5 250.9 L271.1 251.0 L272.8 251.1 L274.5 251.2 L276.1 251.2 L277.8 251.3 L279.4 251.4 L281.1 251.4 L282.7 251.4 L284.4 251.5 L286.1 251.5 L287.7 251.5 L289.4 251.6 L291.0 251.6 L292.7 251.6 L294.3 251.6 L296.0 251.6 L297.6 251.7 L299.3 251.7 L301.0 251.7 L302.6 251.7 L304.3 251.7 L305.9 251.7 L307.6 251.7 L309.2 251.7 L310.9 251.7 L312.5 251.7 L314.2 251.7 L315.9 251.7 L317.5 251.7 L319.2 251.7 L320.8 251.7 L322.5 251.7 L324.1 251.7 L325.8 251.7 L327.5 251.8 L329.1 251.8 L330.8 251.8 L332.4 251.8 L334.1 251.8 L335.7 251.8 L337.4 251.8 L339.0 251.8 L340.7 251.8 L342.4 251.8 L344.0 251.8 L345.7 251.8 L347.3 251.8 L349.0 251.8 L350.6 251.8 L352.3 251.8 L354.0 251.8 L355.6 251.8 L357.3 251.8 L358.9 251.8 L360.6 251.8 L362.2 251.8 L363.9 251.8 L365.5 251.8 L367.2 251.8" stroke="#f00" stroke-width="1.9" stroke-dasharray="9.4 4.0"/>
<path d="M69.1 163.6 L70.8 163.6 L72.4 163.6 L74.1 163.6 L75.7 163.6 L77.4 163.6 L79.0 163.6 L80.7 163.6 L82.3 163.7 L84.0 163.7 L85.7 163.7 L87.3 163.7 L89.0 163.7 L90.6 163.7 L92.3 163.7 L93.9 163.7 L95.6 163.7 L97.3 163.7 L98.9 163.8 L100.6 163.8 L102.2 163.8 L103.9 163.8 L105.5 163.8 L107.2 163.9 L108.8 163.9 L110.5 163.9 L112.2 164.0 L113.8 164.0 L115.5 164.0 L117.1 164.1 L118.8 164.1 L120.4 164.2 L122.1 164.3 L123.8 164.3 L125.4 164.4 L127.1 164.5 L128.7 164.6 L130.4 164.7 L132.0 164.9 L133.7 165.0 L135.3 165.2 L137.0 165.3 L138.7 165.5 L140.3 165.7 L142.0 166.0 L143.6 166.2 L145.3 166.5 L146.9 166.8 L148.6 167.2 L150.2 167.6 L151.9 168.0 L153.6 168.4 L155.2 169.0 L156.9 169.5 L158.5 170.1 L160.2 170.8 L161.8 171.6 L163.5 172.4 L165.2 173.2 L166.8 174.2 L168.5 175.3 L170.1 176.4 L171.8 177.6 L173.4 178.9 L175.1 180.3 L176.7 181.9 L178.4 183.5 L180.1 185.2 L181.7 187.1 L183.4 189.1 L185.0 191.3 L186.7 193.6 L188.3 196.0 L190.0 198.6 L191.7 201.3 L193.3 204.0 L195.0 206.8 L196.6 209.7 L198.3 212.6 L199.9 215.4 L201.6 218.2 L203.2 221.0 L204.9 223.6 L206.6 226.2 L208.2 228.7 L209.9 231.1 L211.5 233.3 L213.2 235.4 L214.8 237.3 L216.5 239.0 L218.2 240.6 L219.8 242.0 L221.5 243.3 L223.1 244.5 L224.8 245.5 L226.4 246.5 L228.1 247.4 L229.7 248.3 L231.4 249.1 L233.1 249.9 L234.7 250.7 L236.4 251.4 L238.0 252.1 L239.7 252.7 L241.3 253.3 L243.0 253.8 L244.6 254.3 L246.3 254.8 L248.0 255.2 L249.6 255.5 L251.3 255.8 L252.9 256.1 L254.6 256.4 L256.2 256.6 L257.9 256.8 L259.6 257.0 L261.2 257.1 L262.9 257.2 L264.5 257.4 L266.2 257.5 L267.8 257.5 L269.5 257.6 L271.1 257.7 L272.8 257.7 L274.5 257.8 L276.1 257.8 L277.8 257.9 L279.4 257.9 L281.1 257.9 L282.7 257.9 L284.4 258.0 L286.1 258.0 L287.7 258.0 L289.4 258.0 L291.0 258.0 L292.7 258.0 L294.3 258.0 L296.0 258.0 L297.6 258.0 L299.3 258.1 L301.0 258.1 L302.6 258.1 L304.3 258.1 L305.9 258.1 L307.6 258.1 L309.2 258.1 L310.9 258.1 L312.5 258.1 L314.2 258.1 L315.9 258.1 L317.5 258.1 L319.2 258.1 L320.8 258.1 L322.5 258.1 L324.1 258.1 L325.8 258.1 L327.5 258.1 L329.1 258.1 L330.8 258.1 L332.4 258.1 L334.1 258.1 L335.7 258.1 L337.4 258.1 L339.0 258.1 L340.7 258.1 L342.4 258.1 L344.0 258.1 L345.7 258.1 L347.3 258.1 L349.0 258.1 L350.6 258.1 L352.3 258.1 L354.0 258.1 L355.6 258.1 L357.3 258.1 L358.9 258.1 L360.6 258.1 L362.2 258.1 L363.9 258.1 L365.5 258.1 L367.2 258.1" stroke="#008b00" stroke-width="1.2"/>
<path d="M69.1 163.6 L70.8 163.6 L72.4 163.6 L74.1 163.6 L75.7 163.6 L77.4 163.6 L79.0 163.6 L80.7 163.6 L82.3 163.6 L84.0 163.6 L85.7 163.7 L87.3 163.7 L89.0 163.7 L90.6 163.7 L92.3 163.7 L93.9 163.7 L95.6 163.7 L97.3 163.7 L98.9 163.7 L100.6 163.7 L102.2 163.7 L103.9 163.8 L105.5 163.8 L107.2 163.8 L108.8 163.8 L110.5 163.9 L112.2 163.9 L113.8 163.9 L115.5 163.9 L117.1 164.0 L118.8 164.0 L120.4 164.1 L122.1 164.1 L123.8 164.2 L125.4 164.3 L127.1 164.3 L128.7 164.4 L130.4 164.5 L132.0 164.6 L133.7 164.7 L135.3 164.8 L137.0 165.0 L138.7 165.1 L140.3 165.3 L142.0 165.5 L143.6 165.7 L145.3 165.9 L146.9 166.2 L148.6 166.4 L150.2 166.7 L151.9 167.1 L153.6 167.4 L155.2 167.9 L156.9 168.3 L158.5 168.8 L160.2 169.4 L161.8 170.0 L163.5 170.6 L165.2 171.3 L166.8 172.1 L168.5 173.0 L170.1 173.9 L171.8 174.9 L173.4 176.0 L175.1 177.2 L176.7 178.5 L178.4 179.8 L180.1 181.3 L181.7 182.9 L183.4 184.7 L185.0 186.5 L186.7 188.6 L188.3 190.7 L190.0 193.0 L191.7 195.4 L193.3 197.9 L195.0 200.5 L196.6 203.1 L198.3 205.8 L199.9 208.5 L201.6 211.2 L203.2 213.9 L204.9 216.5 L206.6 219.1 L208.2 221.6 L209.9 224.0 L211.5 226.3 L213.2 228.5 L214.8 230.5 L216.5 232.4 L218.2 234.2 L219.8 235.8 L221.5 237.3 L223.1 238.6 L224.8 239.9 L226.4 241.1 L228.1 242.1 L229.7 243.1 L231.4 244.1 L233.1 244.9 L234.7 245.8 L236.4 246.5 L238.0 247.2 L239.7 247.9 L241.3 248.4 L243.0 249.0 L244.6 249.4 L246.3 249.9 L248.0 250.2 L249.6 250.6 L251.3 250.9 L252.9 251.2 L254.6 251.4 L256.2 251.6 L257.9 251.8 L259.6 252.0 L261.2 252.1 L262.9 252.2 L264.5 252.4 L266.2 252.5 L267.8 252.5 L269.5 252.6 L271.1 252.7 L272.8 252.7 L274.5 252.8 L276.1 252.8 L277.8 252.8 L279.4 252.9 L281.1 252.9 L282.7 252.9 L284.4 252.9 L286.1 252.9 L287.7 253.0 L289.4 253.0 L291.0 253.0 L292.7 253.0 L294.3 253.0 L296.0 253.0 L297.6 253.0 L299.3 253.0 L301.0 253.0 L302.6 253.0 L304.3 253.0 L305.9 253.0 L307.6 253.0 L309.2 253.0 L310.9 253.0 L312.5 253.0 L314.2 253.0 L315.9 253.0 L317.5 253.0 L319.2 253.0 L320.8 253.0 L322.5 253.0 L324.1 253.0 L325.8 253.0 L327.5 253.0 L329.1 253.0 L330.8 253.0 L332.4 253.0 L334.1 253.0 L335.7 253.0 L337.4 253.0 L339.0 253.0 L340.7 253.0 L342.4 253.0 L344.0 253.0 L345.7 253.0 L347.3 253.0 L349.0 253.0 L350.6 253.0 L352.3 253.0 L354.0 253.0 L355.6 253.0 L357.3 253.0 L358.9 253.0 L360.6 253.0 L362.2 253.0 L363.9 253.0 L365.5 253.0 L367.2 253.0" stroke="#008b00" stroke-width="2.0"/>
</g>
<path d="M79.07 163.6 v5.3 M79.07 298.1 v-5.3 M84.90 163.6 v5.3 M84.90 298.1 v-5.3 M89.04 163.6 v5.3 M89.04 298.1 v-5.3 M92.25 163.6 v5.3 M92.25 298.1 v-5.3 M94.87 163.6 v5.3 M94.87 298.1 v-5.3 M97.09 163.6 v5.3 M97.09 298.1 v-5.3 M99.01 163.6 v5.3 M99.01 298.1 v-5.3 M100.71 163.6 v5.3 M100.71 298.1 v-5.3 M102.22 163.6 v10.3 M102.22 298.1 v-10.3 M112.19 163.6 v5.3 M112.19 298.1 v-5.3 M118.03 163.6 v5.3 M118.03 298.1 v-5.3 M122.16 163.6 v5.3 M122.16 298.1 v-5.3 M125.37 163.6 v5.3 M125.37 298.1 v-5.3 M128.00 163.6 v5.3 M128.00 298.1 v-5.3 M130.21 163.6 v5.3 M130.21 298.1 v-5.3 M132.13 163.6 v5.3 M132.13 298.1 v-5.3 M133.83 163.6 v5.3 M133.83 298.1 v-5.3 M135.34 163.6 v10.3 M135.34 298.1 v-10.3 M145.32 163.6 v5.3 M145.32 298.1 v-5.3 M151.15 163.6 v5.3 M151.15 298.1 v-5.3 M155.29 163.6 v5.3 M155.29 298.1 v-5.3 M158.50 163.6 v5.3 M158.50 298.1 v-5.3 M161.12 163.6 v5.3 M161.12 298.1 v-5.3 M163.34 163.6 v5.3 M163.34 298.1 v-5.3 M165.26 163.6 v5.3 M165.26 298.1 v-5.3 M166.95 163.6 v5.3 M166.95 298.1 v-5.3 M168.47 163.6 v10.3 M168.47 298.1 v-10.3 M178.44 163.6 v5.3 M178.44 298.1 v-5.3 M184.27 163.6 v5.3 M184.27 298.1 v-5.3 M188.41 163.6 v5.3 M188.41 298.1 v-5.3 M191.62 163.6 v5.3 M191.62 298.1 v-5.3 M194.24 163.6 v5.3 M194.24 298.1 v-5.3 M196.46 163.6 v5.3 M196.46 298.1 v-5.3 M198.38 163.6 v5.3 M198.38 298.1 v-5.3 M200.07 163.6 v5.3 M200.07 298.1 v-5.3 M201.59 163.6 v10.3 M201.59 298.1 v-10.3 M211.56 163.6 v5.3 M211.56 298.1 v-5.3 M217.39 163.6 v5.3 M217.39 298.1 v-5.3 M221.53 163.6 v5.3 M221.53 298.1 v-5.3 M224.74 163.6 v5.3 M224.74 298.1 v-5.3 M227.36 163.6 v5.3 M227.36 298.1 v-5.3 M229.58 163.6 v5.3 M229.58 298.1 v-5.3 M231.50 163.6 v5.3 M231.50 298.1 v-5.3 M233.20 163.6 v5.3 M233.20 298.1 v-5.3 M234.71 163.6 v10.3 M234.71 298.1 v-10.3 M244.68 163.6 v5.3 M244.68 298.1 v-5.3 M250.51 163.6 v5.3 M250.51 298.1 v-5.3 M254.65 163.6 v5.3 M254.65 298.1 v-5.3 M257.86 163.6 v5.3 M257.86 298.1 v-5.3 M260.49 163.6 v5.3 M260.49 298.1 v-5.3 M262.70 163.6 v5.3 M262.70 298.1 v-5.3 M264.62 163.6 v5.3 M264.62 298.1 v-5.3 M266.32 163.6 v5.3 M266.32 298.1 v-5.3 M267.83 163.6 v10.3 M267.83 298.1 v-10.3 M277.80 163.6 v5.3 M277.80 298.1 v-5.3 M283.64 163.6 v5.3 M283.64 298.1 v-5.3 M287.77 163.6 v5.3 M287.77 298.1 v-5.3 M290.98 163.6 v5.3 M290.98 298.1 v-5.3 M293.61 163.6 v5.3 M293.61 298.1 v-5.3 M295.82 163.6 v5.3 M295.82 298.1 v-5.3 M297.75 163.6 v5.3 M297.75 298.1 v-5.3 M299.44 163.6 v5.3 M299.44 298.1 v-5.3 M300.96 163.6 v10.3 M300.96 298.1 v-10.3 M310.93 163.6 v5.3 M310.93 298.1 v-5.3 M316.76 163.6 v5.3 M316.76 298.1 v-5.3 M320.90 163.6 v5.3 M320.90 298.1 v-5.3 M324.11 163.6 v5.3 M324.11 298.1 v-5.3 M326.73 163.6 v5.3 M326.73 298.1 v-5.3 M328.95 163.6 v5.3 M328.95 298.1 v-5.3 M330.87 163.6 v5.3 M330.87 298.1 v-5.3 M332.56 163.6 v5.3 M332.56 298.1 v-5.3 M334.08 163.6 v10.3 M334.08 298.1 v-10.3 M344.05 163.6 v5.3 M344.05 298.1 v-5.3 M349.88 163.6 v5.3 M349.88 298.1 v-5.3 M354.02 163.6 v5.3 M354.02 298.1 v-5.3 M357.23 163.6 v5.3 M357.23 298.1 v-5.3 M359.85 163.6 v5.3 M359.85 298.1 v-5.3 M362.07 163.6 v5.3 M362.07 298.1 v-5.3 M363.99 163.6 v5.3 M363.99 298.1 v-5.3 M365.68 163.6 v5.3 M365.68 298.1 v-5.3 M69.1 264.48 h5.3 M367.2 264.48 h-5.3 M69.1 230.85 h10.3 M367.2 230.85 h-10.3 M69.1 197.22 h5.3 M367.2 197.22 h-5.3" stroke="#000" stroke-width="1.0" fill="none"/>
<rect x="69.1" y="163.6" width="298.1" height="134.50000000000003" fill="none" stroke="#000" stroke-width="1.35"/>
<clipPath id="clipc"><rect x="69.1" y="314.15" width="298.1" height="137.1"/></clipPath>
<g clip-path="url(#clipc)" fill="none" stroke-linecap="butt" stroke-linejoin="round">
<path d="M69.1 315.2 L70.8 315.2 L72.4 315.2 L74.1 315.2 L75.7 315.2 L77.4 315.2 L79.0 315.2 L80.7 315.2 L82.3 315.2 L84.0 315.2 L85.7 315.2 L87.3 315.2 L89.0 315.2 L90.6 315.2 L92.3 315.2 L93.9 315.2 L95.6 315.2 L97.3 315.2 L98.9 315.2 L100.6 315.2 L102.2 315.2 L103.9 315.2 L105.5 315.2 L107.2 315.2 L108.8 315.2 L110.5 315.2 L112.2 315.2 L113.8 315.2 L115.5 315.2 L117.1 315.2 L118.8 315.2 L120.4 315.2 L122.1 315.2 L123.8 315.3 L125.4 315.3 L127.1 315.3 L128.7 315.3 L130.4 315.3 L132.0 315.3 L133.7 315.3 L135.3 315.3 L137.0 315.3 L138.7 315.4 L140.3 315.4 L142.0 315.4 L143.6 315.4 L145.3 315.5 L146.9 315.5 L148.6 315.5 L150.2 315.6 L151.9 315.6 L153.6 315.6 L155.2 315.7 L156.9 315.8 L158.5 315.8 L160.2 315.9 L161.8 316.0 L163.5 316.1 L165.2 316.2 L166.8 316.3 L168.5 316.4 L170.1 316.6 L171.8 316.7 L173.4 316.9 L175.1 317.1 L176.7 317.3 L178.4 317.5 L180.1 317.8 L181.7 318.1 L183.4 318.4 L185.0 318.7 L186.7 319.0 L188.3 319.4 L190.0 319.8 L191.7 320.2 L193.3 320.7 L195.0 321.1 L196.6 321.7 L198.3 322.2 L199.9 322.7 L201.6 323.3 L203.2 324.0 L204.9 324.6 L206.6 325.2 L208.2 325.9 L209.9 326.6 L211.5 327.2 L213.2 327.9 L214.8 328.5 L216.5 329.1 L218.2 329.6 L219.8 330.2 L221.5 330.7 L223.1 331.1 L224.8 331.6 L226.4 332.0 L228.1 332.4 L229.7 332.7 L231.4 333.0 L233.1 333.3 L234.7 333.6 L236.4 333.9 L238.0 334.1 L239.7 334.3 L241.3 334.5 L243.0 334.7 L244.6 334.9 L246.3 335.0 L248.0 335.2 L249.6 335.3 L251.3 335.4 L252.9 335.5 L254.6 335.5 L256.2 335.6 L257.9 335.7 L259.6 335.7 L261.2 335.8 L262.9 335.8 L264.5 335.9 L266.2 335.9 L267.8 335.9 L269.5 336.0 L271.1 336.0 L272.8 336.0 L274.5 336.1 L276.1 336.1 L277.8 336.1 L279.4 336.1 L281.1 336.2 L282.7 336.2 L284.4 336.2 L286.1 336.2 L287.7 336.2 L289.4 336.3 L291.0 336.3 L292.7 336.3 L294.3 336.3 L296.0 336.3 L297.6 336.3 L299.3 336.3 L301.0 336.4 L302.6 336.4 L304.3 336.4 L305.9 336.4 L307.6 336.4 L309.2 336.4 L310.9 336.4 L312.5 336.4 L314.2 336.4 L315.9 336.4 L317.5 336.4 L319.2 336.4 L320.8 336.5 L322.5 336.5 L324.1 336.5 L325.8 336.5 L327.5 336.5 L329.1 336.5 L330.8 336.5 L332.4 336.5 L334.1 336.5 L335.7 336.5 L337.4 336.5 L339.0 336.5 L340.7 336.5 L342.4 336.5 L344.0 336.5 L345.7 336.5 L347.3 336.5 L349.0 336.5 L350.6 336.5 L352.3 336.5 L354.0 336.5 L355.6 336.5 L357.3 336.5 L358.9 336.5 L360.6 336.5 L362.2 336.5 L363.9 336.5 L365.5 336.5 L367.2 336.5" stroke="#000" stroke-width="1.2" stroke-dasharray="6 2.2 1 2.3"/>
<path d="M69.1 315.2 L70.8 315.2 L72.4 315.2 L74.1 315.2 L75.7 315.2 L77.4 315.2 L79.0 315.2 L80.7 315.2 L82.3 315.2 L84.0 315.2 L85.7 315.2 L87.3 315.2 L89.0 315.2 L90.6 315.2 L92.3 315.2 L93.9 315.2 L95.6 315.2 L97.3 315.2 L98.9 315.2 L100.6 315.2 L102.2 315.2 L103.9 315.2 L105.5 315.2 L107.2 315.2 L108.8 315.2 L110.5 315.2 L112.2 315.2 L113.8 315.2 L115.5 315.2 L117.1 315.2 L118.8 315.2 L120.4 315.2 L122.1 315.2 L123.8 315.2 L125.4 315.3 L127.1 315.3 L128.7 315.3 L130.4 315.3 L132.0 315.3 L133.7 315.3 L135.3 315.3 L137.0 315.3 L138.7 315.3 L140.3 315.4 L142.0 315.4 L143.6 315.4 L145.3 315.4 L146.9 315.5 L148.6 315.5 L150.2 315.5 L151.9 315.6 L153.6 315.6 L155.2 315.7 L156.9 315.7 L158.5 315.8 L160.2 315.9 L161.8 316.0 L163.5 316.1 L165.2 316.2 L166.8 316.3 L168.5 316.4 L170.1 316.6 L171.8 316.7 L173.4 316.9 L175.1 317.1 L176.7 317.3 L178.4 317.6 L180.1 317.8 L181.7 318.1 L183.4 318.4 L185.0 318.8 L186.7 319.2 L188.3 319.6 L190.0 320.0 L191.7 320.5 L193.3 321.0 L195.0 321.6 L196.6 322.1 L198.3 322.8 L199.9 323.4 L201.6 324.1 L203.2 324.8 L204.9 325.5 L206.6 326.3 L208.2 327.0 L209.9 327.8 L211.5 328.6 L213.2 329.4 L214.8 330.2 L216.5 331.1 L218.2 331.9 L219.8 332.6 L221.5 333.4 L223.1 334.2 L224.8 334.9 L226.4 335.6 L228.1 336.2 L229.7 336.8 L231.4 337.4 L233.1 337.9 L234.7 338.3 L236.4 338.7 L238.0 339.1 L239.7 339.4 L241.3 339.7 L243.0 340.0 L244.6 340.3 L246.3 340.5 L248.0 340.7 L249.6 340.8 L251.3 341.0 L252.9 341.1 L254.6 341.2 L256.2 341.3 L257.9 341.4 L259.6 341.5 L261.2 341.5 L262.9 341.6 L264.5 341.6 L266.2 341.7 L267.8 341.7 L269.5 341.8 L271.1 341.8 L272.8 341.9 L274.5 341.9 L276.1 341.9 L277.8 342.0 L279.4 342.0 L281.1 342.0 L282.7 342.1 L284.4 342.1 L286.1 342.1 L287.7 342.1 L289.4 342.1 L291.0 342.2 L292.7 342.2 L294.3 342.2 L296.0 342.2 L297.6 342.2 L299.3 342.2 L301.0 342.2 L302.6 342.2 L304.3 342.2 L305.9 342.3 L307.6 342.3 L309.2 342.3 L310.9 342.3 L312.5 342.3 L314.2 342.3 L315.9 342.3 L317.5 342.3 L319.2 342.3 L320.8 342.3 L322.5 342.3 L324.1 342.3 L325.8 342.3 L327.5 342.3 L329.1 342.3 L330.8 342.3 L332.4 342.3 L334.1 342.3 L335.7 342.3 L337.4 342.3 L339.0 342.3 L340.7 342.3 L342.4 342.3 L344.0 342.3 L345.7 342.3 L347.3 342.3 L349.0 342.3 L350.6 342.3 L352.3 342.3 L354.0 342.3 L355.6 342.3 L357.3 342.3 L358.9 342.3 L360.6 342.3 L362.2 342.3 L363.9 342.3 L365.5 342.3 L367.2 342.3" stroke="#000" stroke-width="2.0" stroke-dasharray="8.4 4.4 1.8 4.3"/>
<path d="M69.1 315.2 L70.8 315.2 L72.4 315.2 L74.1 315.2 L75.7 315.2 L77.4 315.2 L79.0 315.2 L80.7 315.2 L82.3 315.2 L84.0 315.2 L85.7 315.2 L87.3 315.2 L89.0 315.2 L90.6 315.2 L92.3 315.2 L93.9 315.2 L95.6 315.2 L97.3 315.2 L98.9 315.2 L100.6 315.2 L102.2 315.2 L103.9 315.2 L105.5 315.2 L107.2 315.2 L108.8 315.2 L110.5 315.2 L112.2 315.2 L113.8 315.2 L115.5 315.2 L117.1 315.3 L118.8 315.3 L120.4 315.3 L122.1 315.3 L123.8 315.3 L125.4 315.3 L127.1 315.3 L128.7 315.3 L130.4 315.4 L132.0 315.4 L133.7 315.4 L135.3 315.4 L137.0 315.5 L138.7 315.5 L140.3 315.5 L142.0 315.6 L143.6 315.6 L145.3 315.7 L146.9 315.8 L148.6 315.8 L150.2 315.9 L151.9 316.0 L153.6 316.1 L155.2 316.2 L156.9 316.4 L158.5 316.5 L160.2 316.7 L161.8 316.9 L163.5 317.1 L165.2 317.4 L166.8 317.6 L168.5 317.9 L170.1 318.3 L171.8 318.6 L173.4 319.1 L175.1 319.5 L176.7 320.0 L178.4 320.6 L180.1 321.2 L181.7 321.8 L183.4 322.5 L185.0 323.2 L186.7 324.0 L188.3 324.8 L190.0 325.7 L191.7 326.6 L193.3 327.5 L195.0 328.5 L196.6 329.6 L198.3 330.7 L199.9 331.8 L201.6 333.1 L203.2 334.4 L204.9 335.7 L206.6 337.1 L208.2 338.6 L209.9 340.1 L211.5 341.7 L213.2 343.3 L214.8 344.9 L216.5 346.5 L218.2 348.2 L219.8 349.8 L221.5 351.5 L223.1 353.2 L224.8 354.9 L226.4 356.6 L228.1 358.3 L229.7 359.9 L231.4 361.5 L233.1 363.0 L234.7 364.5 L236.4 366.0 L238.0 367.3 L239.7 368.6 L241.3 369.9 L243.0 371.1 L244.6 372.2 L246.3 373.3 L248.0 374.3 L249.6 375.2 L251.3 376.0 L252.9 376.8 L254.6 377.5 L256.2 378.2 L257.9 378.8 L259.6 379.3 L261.2 379.9 L262.9 380.3 L264.5 380.8 L266.2 381.2 L267.8 381.6 L269.5 382.0 L271.1 382.4 L272.8 382.7 L274.5 383.0 L276.1 383.3 L277.8 383.5 L279.4 383.7 L281.1 383.9 L282.7 384.1 L284.4 384.3 L286.1 384.4 L287.7 384.5 L289.4 384.6 L291.0 384.7 L292.7 384.8 L294.3 384.9 L296.0 385.0 L297.6 385.1 L299.3 385.1 L301.0 385.2 L302.6 385.2 L304.3 385.2 L305.9 385.3 L307.6 385.3 L309.2 385.3 L310.9 385.4 L312.5 385.4 L314.2 385.4 L315.9 385.4 L317.5 385.4 L319.2 385.5 L320.8 385.5 L322.5 385.5 L324.1 385.5 L325.8 385.5 L327.5 385.5 L329.1 385.5 L330.8 385.5 L332.4 385.5 L334.1 385.5 L335.7 385.5 L337.4 385.5 L339.0 385.5 L340.7 385.5 L342.4 385.5 L344.0 385.5 L345.7 385.5 L347.3 385.5 L349.0 385.5 L350.6 385.5 L352.3 385.5 L354.0 385.5 L355.6 385.5 L357.3 385.5 L358.9 385.5 L360.6 385.5 L362.2 385.6 L363.9 385.6 L365.5 385.6 L367.2 385.6" stroke="#f00" stroke-width="1.2" stroke-dasharray="5.5 2.2"/>
<path d="M69.1 315.2 L70.8 315.2 L72.4 315.2 L74.1 315.2 L75.7 315.2 L77.4 315.2 L79.0 315.2 L80.7 315.2 L82.3 315.2 L84.0 315.2 L85.7 315.2 L87.3 315.2 L89.0 315.2 L90.6 315.2 L92.3 315.2 L93.9 315.2 L95.6 315.2 L97.3 315.2 L98.9 315.2 L100.6 315.2 L102.2 315.2 L103.9 315.2 L105.5 315.2 L107.2 315.2 L108.8 315.2 L110.5 315.2 L112.2 315.2 L113.8 315.2 L115.5 315.2 L117.1 315.3 L118.8 315.3 L120.4 315.3 L122.1 315.3 L123.8 315.3 L125.4 315.3 L127.1 315.3 L128.7 315.3 L130.4 315.3 L132.0 315.4 L133.7 315.4 L135.3 315.4 L137.0 315.4 L138.7 315.5 L140.3 315.5 L142.0 315.6 L143.6 315.6 L145.3 315.7 L146.9 315.7 L148.6 315.8 L150.2 315.9 L151.9 316.0 L153.6 316.1 L155.2 316.2 L156.9 316.3 L158.5 316.4 L160.2 316.6 L161.8 316.8 L163.5 317.0 L165.2 317.2 L166.8 317.5 L168.5 317.8 L170.1 318.1 L171.8 318.5 L173.4 318.9 L175.1 319.3 L176.7 319.8 L178.4 320.3 L180.1 320.9 L181.7 321.5 L183.4 322.2 L185.0 322.9 L186.7 323.6 L188.3 324.4 L190.0 325.3 L191.7 326.2 L193.3 327.1 L195.0 328.1 L196.6 329.1 L198.3 330.2 L199.9 331.4 L201.6 332.6 L203.2 333.9 L204.9 335.3 L206.6 336.7 L208.2 338.2 L209.9 339.7 L211.5 341.3 L213.2 342.9 L214.8 344.5 L216.5 346.2 L218.2 347.9 L219.8 349.5 L221.5 351.2 L223.1 352.9 L224.8 354.6 L226.4 356.3 L228.1 358.1 L229.7 359.8 L231.4 361.6 L233.1 363.4 L234.7 365.2 L236.4 367.0 L238.0 368.9 L239.7 370.8 L241.3 372.7 L243.0 374.6 L244.6 376.5 L246.3 378.4 L248.0 380.2 L249.6 382.0 L251.3 383.7 L252.9 385.4 L254.6 387.1 L256.2 388.6 L257.9 390.0 L259.6 391.4 L261.2 392.6 L262.9 393.7 L264.5 394.7 L266.2 395.6 L267.8 396.4 L269.5 397.3 L271.1 398.0 L272.8 398.7 L274.5 399.4 L276.1 400.0 L277.8 400.5 L279.4 400.9 L281.1 401.4 L282.7 401.8 L284.4 402.1 L286.1 402.5 L287.7 402.8 L289.4 403.1 L291.0 403.3 L292.7 403.6 L294.3 403.8 L296.0 404.0 L297.6 404.1 L299.3 404.3 L301.0 404.4 L302.6 404.6 L304.3 404.7 L305.9 404.8 L307.6 404.8 L309.2 404.9 L310.9 405.0 L312.5 405.0 L314.2 405.1 L315.9 405.1 L317.5 405.2 L319.2 405.2 L320.8 405.2 L322.5 405.3 L324.1 405.3 L325.8 405.3 L327.5 405.3 L329.1 405.3 L330.8 405.3 L332.4 405.4 L334.1 405.4 L335.7 405.4 L337.4 405.4 L339.0 405.4 L340.7 405.4 L342.4 405.4 L344.0 405.4 L345.7 405.4 L347.3 405.4 L349.0 405.4 L350.6 405.4 L352.3 405.4 L354.0 405.4 L355.6 405.4 L357.3 405.4 L358.9 405.4 L360.6 405.4 L362.2 405.4 L363.9 405.4 L365.5 405.4 L367.2 405.4" stroke="#f00" stroke-width="1.9" stroke-dasharray="9.4 4.0"/>
<path d="M69.1 315.2 L70.8 315.2 L72.4 315.2 L74.1 315.2 L75.7 315.2 L77.4 315.2 L79.0 315.2 L80.7 315.2 L82.3 315.2 L84.0 315.2 L85.7 315.2 L87.3 315.2 L89.0 315.2 L90.6 315.2 L92.3 315.2 L93.9 315.2 L95.6 315.2 L97.3 315.2 L98.9 315.2 L100.6 315.2 L102.2 315.2 L103.9 315.2 L105.5 315.2 L107.2 315.2 L108.8 315.2 L110.5 315.2 L112.2 315.2 L113.8 315.2 L115.5 315.2 L117.1 315.3 L118.8 315.3 L120.4 315.3 L122.1 315.3 L123.8 315.3 L125.4 315.3 L127.1 315.3 L128.7 315.3 L130.4 315.4 L132.0 315.4 L133.7 315.4 L135.3 315.4 L137.0 315.5 L138.7 315.5 L140.3 315.5 L142.0 315.6 L143.6 315.6 L145.3 315.7 L146.9 315.8 L148.6 315.8 L150.2 315.9 L151.9 316.0 L153.6 316.1 L155.2 316.2 L156.9 316.4 L158.5 316.5 L160.2 316.7 L161.8 316.9 L163.5 317.1 L165.2 317.4 L166.8 317.6 L168.5 318.0 L170.1 318.3 L171.8 318.7 L173.4 319.1 L175.1 319.6 L176.7 320.1 L178.4 320.6 L180.1 321.2 L181.7 321.9 L183.4 322.6 L185.0 323.3 L186.7 324.1 L188.3 324.9 L190.0 325.8 L191.7 326.7 L193.3 327.7 L195.0 328.7 L196.6 329.7 L198.3 330.9 L199.9 332.1 L201.6 333.3 L203.2 334.6 L204.9 336.0 L206.6 337.5 L208.2 339.0 L209.9 340.6 L211.5 342.2 L213.2 343.9 L214.8 345.6 L216.5 347.4 L218.2 349.3 L219.8 351.2 L221.5 353.2 L223.1 355.2 L224.8 357.3 L226.4 359.4 L228.1 361.4 L229.7 363.5 L231.4 365.6 L233.1 367.7 L234.7 369.7 L236.4 371.8 L238.0 373.8 L239.7 375.9 L241.3 377.9 L243.0 379.9 L244.6 381.8 L246.3 383.7 L248.0 385.5 L249.6 387.3 L251.3 389.1 L252.9 390.7 L254.6 392.2 L256.2 393.7 L257.9 395.1 L259.6 396.3 L261.2 397.5 L262.9 398.5 L264.5 399.5 L266.2 400.4 L267.8 401.2 L269.5 402.0 L271.1 402.7 L272.8 403.4 L274.5 404.0 L276.1 404.6 L277.8 405.1 L279.4 405.5 L281.1 405.9 L282.7 406.3 L284.4 406.6 L286.1 406.9 L287.7 407.2 L289.4 407.4 L291.0 407.6 L292.7 407.8 L294.3 408.0 L296.0 408.2 L297.6 408.3 L299.3 408.4 L301.0 408.5 L302.6 408.6 L304.3 408.7 L305.9 408.8 L307.6 408.8 L309.2 408.9 L310.9 409.0 L312.5 409.0 L314.2 409.0 L315.9 409.1 L317.5 409.1 L319.2 409.1 L320.8 409.2 L322.5 409.2 L324.1 409.2 L325.8 409.2 L327.5 409.2 L329.1 409.3 L330.8 409.3 L332.4 409.3 L334.1 409.3 L335.7 409.3 L337.4 409.3 L339.0 409.3 L340.7 409.3 L342.4 409.3 L344.0 409.3 L345.7 409.3 L347.3 409.3 L349.0 409.3 L350.6 409.3 L352.3 409.3 L354.0 409.3 L355.6 409.4 L357.3 409.4 L358.9 409.4 L360.6 409.4 L362.2 409.4 L363.9 409.4 L365.5 409.4 L367.2 409.4" stroke="#008b00" stroke-width="1.2"/>
<path d="M69.1 315.2 L70.8 315.2 L72.4 315.2 L74.1 315.2 L75.7 315.2 L77.4 315.2 L79.0 315.2 L80.7 315.2 L82.3 315.2 L84.0 315.2 L85.7 315.2 L87.3 315.2 L89.0 315.2 L90.6 315.2 L92.3 315.2 L93.9 315.2 L95.6 315.2 L97.3 315.2 L98.9 315.2 L100.6 315.2 L102.2 315.2 L103.9 315.2 L105.5 315.2 L107.2 315.2 L108.8 315.2 L110.5 315.2 L112.2 315.2 L113.8 315.2 L115.5 315.2 L117.1 315.3 L118.8 315.3 L120.4 315.3 L122.1 315.3 L123.8 315.3 L125.4 315.3 L127.1 315.3 L128.7 315.3 L130.4 315.4 L132.0 315.4 L133.7 315.4 L135.3 315.4 L137.0 315.5 L138.7 315.5 L140.3 315.5 L142.0 315.6 L143.6 315.6 L145.3 315.7 L146.9 315.8 L148.6 315.8 L150.2 315.9 L151.9 316.0 L153.6 316.1 L155.2 316.2 L156.9 316.4 L158.5 316.5 L160.2 316.7 L161.8 316.9 L163.5 317.1 L165.2 317.4 L166.8 317.6 L168.5 318.0 L170.1 318.3 L171.8 318.7 L173.4 319.1 L175.1 319.6 L176.7 320.1 L178.4 320.6 L180.1 321.2 L181.7 321.9 L183.4 322.6 L185.0 323.3 L186.7 324.1 L188.3 324.9 L190.0 325.8 L191.7 326.7 L193.3 327.7 L195.0 328.7 L196.6 329.8 L198.3 330.9 L199.9 332.1 L201.6 333.4 L203.2 334.7 L204.9 336.1 L206.6 337.6 L208.2 339.1 L209.9 340.7 L211.5 342.3 L213.2 344.0 L214.8 345.8 L216.5 347.6 L218.2 349.5 L219.8 351.4 L221.5 353.4 L223.1 355.5 L224.8 357.6 L226.4 359.7 L228.1 361.9 L229.7 364.0 L231.4 366.2 L233.1 368.4 L234.7 370.6 L236.4 372.8 L238.0 375.0 L239.7 377.3 L241.3 379.6 L243.0 381.9 L244.6 384.1 L246.3 386.4 L248.0 388.6 L249.6 390.9 L251.3 393.1 L252.9 395.3 L254.6 397.4 L256.2 399.5 L257.9 401.5 L259.6 403.5 L261.2 405.3 L262.9 407.1 L264.5 408.8 L266.2 410.4 L267.8 411.9 L269.5 413.3 L271.1 414.7 L272.8 416.0 L274.5 417.1 L276.1 418.2 L277.8 419.2 L279.4 420.1 L281.1 420.9 L282.7 421.6 L284.4 422.2 L286.1 422.8 L287.7 423.4 L289.4 423.8 L291.0 424.3 L292.7 424.7 L294.3 425.1 L296.0 425.5 L297.6 425.8 L299.3 426.1 L301.0 426.4 L302.6 426.6 L304.3 426.9 L305.9 427.1 L307.6 427.3 L309.2 427.5 L310.9 427.6 L312.5 427.8 L314.2 427.9 L315.9 428.0 L317.5 428.1 L319.2 428.2 L320.8 428.3 L322.5 428.4 L324.1 428.5 L325.8 428.6 L327.5 428.6 L329.1 428.7 L330.8 428.7 L332.4 428.8 L334.1 428.8 L335.7 428.8 L337.4 428.9 L339.0 428.9 L340.7 428.9 L342.4 429.0 L344.0 429.0 L345.7 429.0 L347.3 429.0 L349.0 429.0 L350.6 429.0 L352.3 429.1 L354.0 429.1 L355.6 429.1 L357.3 429.1 L358.9 429.1 L360.6 429.1 L362.2 429.1 L363.9 429.1 L365.5 429.1 L367.2 429.1" stroke="#008b00" stroke-width="2.0"/>
</g>
<path d="M79.07 315.2 v5.3 M79.07 450.2 v-5.3 M84.90 315.2 v5.3 M84.90 450.2 v-5.3 M89.04 315.2 v5.3 M89.04 450.2 v-5.3 M92.25 315.2 v5.3 M92.25 450.2 v-5.3 M94.87 315.2 v5.3 M94.87 450.2 v-5.3 M97.09 315.2 v5.3 M97.09 450.2 v-5.3 M99.01 315.2 v5.3 M99.01 450.2 v-5.3 M100.71 315.2 v5.3 M100.71 450.2 v-5.3 M102.22 315.2 v10.3 M102.22 450.2 v-10.3 M112.19 315.2 v5.3 M112.19 450.2 v-5.3 M118.03 315.2 v5.3 M118.03 450.2 v-5.3 M122.16 315.2 v5.3 M122.16 450.2 v-5.3 M125.37 315.2 v5.3 M125.37 450.2 v-5.3 M128.00 315.2 v5.3 M128.00 450.2 v-5.3 M130.21 315.2 v5.3 M130.21 450.2 v-5.3 M132.13 315.2 v5.3 M132.13 450.2 v-5.3 M133.83 315.2 v5.3 M133.83 450.2 v-5.3 M135.34 315.2 v10.3 M135.34 450.2 v-10.3 M145.32 315.2 v5.3 M145.32 450.2 v-5.3 M151.15 315.2 v5.3 M151.15 450.2 v-5.3 M155.29 315.2 v5.3 M155.29 450.2 v-5.3 M158.50 315.2 v5.3 M158.50 450.2 v-5.3 M161.12 315.2 v5.3 M161.12 450.2 v-5.3 M163.34 315.2 v5.3 M163.34 450.2 v-5.3 M165.26 315.2 v5.3 M165.26 450.2 v-5.3 M166.95 315.2 v5.3 M166.95 450.2 v-5.3 M168.47 315.2 v10.3 M168.47 450.2 v-10.3 M178.44 315.2 v5.3 M178.44 450.2 v-5.3 M184.27 315.2 v5.3 M184.27 450.2 v-5.3 M188.41 315.2 v5.3 M188.41 450.2 v-5.3 M191.62 315.2 v5.3 M191.62 450.2 v-5.3 M194.24 315.2 v5.3 M194.24 450.2 v-5.3 M196.46 315.2 v5.3 M196.46 450.2 v-5.3 M198.38 315.2 v5.3 M198.38 450.2 v-5.3 M200.07 315.2 v5.3 M200.07 450.2 v-5.3 M201.59 315.2 v10.3 M201.59 450.2 v-10.3 M211.56 315.2 v5.3 M211.56 450.2 v-5.3 M217.39 315.2 v5.3 M217.39 450.2 v-5.3 M221.53 315.2 v5.3 M221.53 450.2 v-5.3 M224.74 315.2 v5.3 M224.74 450.2 v-5.3 M227.36 315.2 v5.3 M227.36 450.2 v-5.3 M229.58 315.2 v5.3 M229.58 450.2 v-5.3 M231.50 315.2 v5.3 M231.50 450.2 v-5.3 M233.20 315.2 v5.3 M233.20 450.2 v-5.3 M234.71 315.2 v10.3 M234.71 450.2 v-10.3 M244.68 315.2 v5.3 M244.68 450.2 v-5.3 M250.51 315.2 v5.3 M250.51 450.2 v-5.3 M254.65 315.2 v5.3 M254.65 450.2 v-5.3 M257.86 315.2 v5.3 M257.86 450.2 v-5.3 M260.49 315.2 v5.3 M260.49 450.2 v-5.3 M262.70 315.2 v5.3 M262.70 450.2 v-5.3 M264.62 315.2 v5.3 M264.62 450.2 v-5.3 M266.32 315.2 v5.3 M266.32 450.2 v-5.3 M267.83 315.2 v10.3 M267.83 450.2 v-10.3 M277.80 315.2 v5.3 M277.80 450.2 v-5.3 M283.64 315.2 v5.3 M283.64 450.2 v-5.3 M287.77 315.2 v5.3 M287.77 450.2 v-5.3 M290.98 315.2 v5.3 M290.98 450.2 v-5.3 M293.61 315.2 v5.3 M293.61 450.2 v-5.3 M295.82 315.2 v5.3 M295.82 450.2 v-5.3 M297.75 315.2 v5.3 M297.75 450.2 v-5.3 M299.44 315.2 v5.3 M299.44 450.2 v-5.3 M300.96 315.2 v10.3 M300.96 450.2 v-10.3 M310.93 315.2 v5.3 M310.93 450.2 v-5.3 M316.76 315.2 v5.3 M316.76 450.2 v-5.3 M320.90 315.2 v5.3 M320.90 450.2 v-5.3 M324.11 315.2 v5.3 M324.11 450.2 v-5.3 M326.73 315.2 v5.3 M326.73 450.2 v-5.3 M328.95 315.2 v5.3 M328.95 450.2 v-5.3 M330.87 315.2 v5.3 M330.87 450.2 v-5.3 M332.56 315.2 v5.3 M332.56 450.2 v-5.3 M334.08 315.2 v10.3 M334.08 450.2 v-10.3 M344.05 315.2 v5.3 M344.05 450.2 v-5.3 M349.88 315.2 v5.3 M349.88 450.2 v-5.3 M354.02 315.2 v5.3 M354.02 450.2 v-5.3 M357.23 315.2 v5.3 M357.23 450.2 v-5.3 M359.85 315.2 v5.3 M359.85 450.2 v-5.3 M362.07 315.2 v5.3 M362.07 450.2 v-5.3 M363.99 315.2 v5.3 M363.99 450.2 v-5.3 M365.68 315.2 v5.3 M365.68 450.2 v-5.3 M69.1 338.79 h5.3 M367.2 338.79 h-5.3 M69.1 332.85 h5.3 M367.2 332.85 h-5.3 M69.1 328.63 h5.3 M367.2 328.63 h-5.3 M69.1 325.36 h5.3 M367.2 325.36 h-5.3 M69.1 322.69 h5.3 M367.2 322.69 h-5.3 M69.1 320.43 h5.3 M367.2 320.43 h-5.3 M69.1 318.47 h5.3 M367.2 318.47 h-5.3 M69.1 316.74 h5.3 M367.2 316.74 h-5.3 M69.1 348.95 h10.3 M367.2 348.95 h-10.3 M69.1 372.54 h5.3 M367.2 372.54 h-5.3 M69.1 366.60 h5.3 M367.2 366.60 h-5.3 M69.1 362.38 h5.3 M367.2 362.38 h-5.3 M69.1 359.11 h5.3 M367.2 359.11 h-5.3 M69.1 356.44 h5.3 M367.2 356.44 h-5.3 M69.1 354.18 h5.3 M367.2 354.18 h-5.3 M69.1 352.22 h5.3 M367.2 352.22 h-5.3 M69.1 350.49 h5.3 M367.2 350.49 h-5.3 M69.1 382.70 h10.3 M367.2 382.70 h-10.3 M69.1 406.29 h5.3 M367.2 406.29 h-5.3 M69.1 400.35 h5.3 M367.2 400.35 h-5.3 M69.1 396.13 h5.3 M367.2 396.13 h-5.3 M69.1 392.86 h5.3 M367.2 392.86 h-5.3 M69.1 390.19 h5.3 M367.2 390.19 h-5.3 M69.1 387.93 h5.3 M367.2 387.93 h-5.3 M69.1 385.97 h5.3 M367.2 385.97 h-5.3 M69.1 384.24 h5.3 M367.2 384.24 h-5.3 M69.1 416.45 h10.3 M367.2 416.45 h-10.3 M69.1 440.04 h5.3 M367.2 440.04 h-5.3 M69.1 434.10 h5.3 M367.2 434.10 h-5.3 M69.1 429.88 h5.3 M367.2 429.88 h-5.3 M69.1 426.61 h5.3 M367.2 426.61 h-5.3 M69.1 423.94 h5.3 M367.2 423.94 h-5.3 M69.1 421.68 h5.3 M367.2 421.68 h-5.3 M69.1 419.72 h5.3 M367.2 419.72 h-5.3 M69.1 417.99 h5.3 M367.2 417.99 h-5.3" stroke="#000" stroke-width="1.0" fill="none"/>
<rect x="69.1" y="315.2" width="298.1" height="135.0" fill="none" stroke="#000" stroke-width="1.35"/>
<text x="64.5" y="22.2" text-anchor="end" font-size="20">10<tspan font-size="14.2" dx="-0.4" dy="-11.3" letter-spacing="-0.7">0</tspan></text>
<text x="64.0" y="67.3" text-anchor="end" font-size="20">10<tspan font-size="14.2" dx="-0.4" dy="-11.3" letter-spacing="-0.7">-1</tspan></text>
<text x="64.0" y="112.4" text-anchor="end" font-size="20">10<tspan font-size="14.2" dx="-0.4" dy="-11.3" letter-spacing="-0.7">-2</tspan></text>
<text x="64.0" y="157.5" text-anchor="end" font-size="20">10<tspan font-size="14.2" dx="-0.4" dy="-11.3" letter-spacing="-0.7">-3</tspan></text>
<text x="64.5" y="325.5" text-anchor="end" font-size="20">10<tspan font-size="14.2" dx="-0.4" dy="-11.3" letter-spacing="-0.7">0</tspan></text>
<text x="64.0" y="359.2" text-anchor="end" font-size="20">10<tspan font-size="14.2" dx="-0.4" dy="-11.3" letter-spacing="-0.7">-1</tspan></text>
<text x="64.0" y="393.0" text-anchor="end" font-size="20">10<tspan font-size="14.2" dx="-0.4" dy="-11.3" letter-spacing="-0.7">-2</tspan></text>
<text x="64.0" y="426.8" text-anchor="end" font-size="20">10<tspan font-size="14.2" dx="-0.4" dy="-11.3" letter-spacing="-0.7">-3</tspan></text>
<text x="64.0" y="460.5" text-anchor="end" font-size="20">10<tspan font-size="14.2" dx="-0.4" dy="-11.3" letter-spacing="-0.7">-4</tspan></text>
<text x="64.5" y="305.0" text-anchor="end" font-size="20">0</text>
<text x="64.5" y="237.8" text-anchor="end" font-size="20">0.5</text>
<text x="64.5" y="170.5" text-anchor="end" font-size="20">1</text>
<text x="83.7" y="477.1" text-anchor="end" font-size="20">10<tspan font-size="14.2" dx="-0.4" dy="-11.3" letter-spacing="-0.7">-4</tspan></text>
<text x="116.8" y="477.1" text-anchor="end" font-size="20">10<tspan font-size="14.2" dx="-0.4" dy="-11.3" letter-spacing="-0.7">-3</tspan></text>
<text x="149.9" y="477.1" text-anchor="end" font-size="20">10<tspan font-size="14.2" dx="-0.4" dy="-11.3" letter-spacing="-0.7">-2</tspan></text>
<text x="183.1" y="477.1" text-anchor="end" font-size="20">10<tspan font-size="14.2" dx="-0.4" dy="-11.3" letter-spacing="-0.7">-1</tspan></text>
<text x="214.3" y="477.1" text-anchor="end" font-size="20">10<tspan font-size="14.2" dx="-0.4" dy="-11.3" letter-spacing="-0.7">0</tspan></text>
<text x="247.4" y="477.1" text-anchor="end" font-size="20">10<tspan font-size="14.2" dx="-0.4" dy="-11.3" letter-spacing="-0.7">1</tspan></text>
<text x="280.5" y="477.1" text-anchor="end" font-size="20">10<tspan font-size="14.2" dx="-0.4" dy="-11.3" letter-spacing="-0.7">2</tspan></text>
<text x="313.7" y="477.1" text-anchor="end" font-size="20">10<tspan font-size="14.2" dx="-0.4" dy="-11.3" letter-spacing="-0.7">3</tspan></text>
<text x="346.8" y="477.1" text-anchor="end" font-size="20">10<tspan font-size="14.2" dx="-0.4" dy="-11.3" letter-spacing="-0.7">4</tspan></text>
<text x="379.9" y="477.1" text-anchor="end" font-size="20">10<tspan font-size="14.2" dx="-0.4" dy="-11.3" letter-spacing="-0.7">5</tspan></text>
<text class="cm" x="83.9" y="49.9" font-size="31">(</text><text class="cm3" x="94.0" y="50.1" font-size="28" font-style="italic" textLength="15.6" lengthAdjust="spacingAndGlyphs">a</text><text class="cm" x="109.2" y="49.9" font-size="31">)</text>
<text class="cm" x="83.9" y="199.8" font-size="31">(</text><text class="cm3" x="94.0" y="200" font-size="28" font-style="italic" textLength="10.2" lengthAdjust="spacingAndGlyphs">b</text><text class="cm" x="105.4" y="199.8" font-size="31">)</text>
<text class="cm" x="83.9" y="353.6" font-size="31">(</text><text class="cm3" x="94.0" y="353.8" font-size="28" font-style="italic" textLength="12.4" lengthAdjust="spacingAndGlyphs">c</text><text class="cm" x="105.8" y="353.6" font-size="31">)</text>
<text class="cm3" x="90.8" y="122.7" font-size="32" textLength="38.8" lengthAdjust="spacingAndGlyphs">3D</text><path d="M141.4 114.5 H168.39999999999998 M160.29999999999998 106.5 Q162.7 112.9 169.2 114.5 Q162.7 116.1 160.29999999999998 122.5" fill="none" stroke="#000" stroke-width="1.25" stroke-linecap="round" stroke-linejoin="round"/><text class="cm3" x="182.5" y="122.7" font-size="32" textLength="38.8" lengthAdjust="spacingAndGlyphs">2D</text>
<text class="cm3" x="215.8" y="285.3" font-size="32" textLength="38.8" lengthAdjust="spacingAndGlyphs">2D</text><path d="M266.40000000000003 277.1 H293.40000000000003 M285.30000000000007 269.1 Q287.70000000000005 275.5 294.20000000000005 277.1 Q287.70000000000005 278.70000000000005 285.30000000000007 285.1" fill="none" stroke="#000" stroke-width="1.25" stroke-linecap="round" stroke-linejoin="round"/><text class="cm3" x="309.7" y="285.3" font-size="32" textLength="38.8" lengthAdjust="spacingAndGlyphs">1D</text>
<text class="cm3" x="105.9" y="426.7" font-size="32" textLength="38.8" lengthAdjust="spacingAndGlyphs">3D</text><path d="M156.5 418.5 H183.5 M175.4 410.5 Q177.8 416.9 184.3 418.5 Q177.8 420.1 175.4 426.5" fill="none" stroke="#000" stroke-width="1.25" stroke-linecap="round" stroke-linejoin="round"/><text class="cm3" x="198.8" y="426.7" font-size="32" textLength="38.8" lengthAdjust="spacingAndGlyphs">1D</text>
<g transform="translate(0,119.5) rotate(-90)"><text class="cm2" x="-1.2" y="25" font-size="26" font-style="italic" textLength="19" lengthAdjust="spacingAndGlyphs">E</text><path d="M17.9 31.2 L28.6 6.8" stroke="#000" stroke-width="1.25" fill="none"/><text class="cm2" x="29.6" y="25" font-size="26" font-style="italic" textLength="18.4" lengthAdjust="spacingAndGlyphs">E</text><text class="cm4" x="44.3" y="29.1" font-size="17.6" textLength="24" lengthAdjust="spacingAndGlyphs">2D</text></g>
<g transform="translate(0,271.5) rotate(-90)"><text class="cm2" x="-1.2" y="25" font-size="26" font-style="italic" textLength="19" lengthAdjust="spacingAndGlyphs">E</text><path d="M17.9 31.2 L28.6 6.8" stroke="#000" stroke-width="1.25" fill="none"/><text class="cm2" x="29.6" y="25" font-size="26" font-style="italic" textLength="18.4" lengthAdjust="spacingAndGlyphs">E</text><text class="cm4" x="44.3" y="29.1" font-size="17.6" textLength="24" lengthAdjust="spacingAndGlyphs">1D</text></g>
<g transform="translate(0,418.9) rotate(-90)"><text class="cm2" x="-1.2" y="25" font-size="26" font-style="italic" textLength="19" lengthAdjust="spacingAndGlyphs">E</text><path d="M17.9 31.2 L28.6 6.8" stroke="#000" stroke-width="1.25" fill="none"/><text class="cm2" x="29.6" y="25" font-size="26" font-style="italic" textLength="18.4" lengthAdjust="spacingAndGlyphs">E</text><text class="cm4" x="44.3" y="29.1" font-size="17.6" textLength="24" lengthAdjust="spacingAndGlyphs">1D</text></g>
<text class="cm4" x="139" y="498.1" font-size="20.5">(</text><text class="cm4" x="145.0" y="498.1" font-size="20.5" font-style="italic" textLength="11.6" lengthAdjust="spacingAndGlyphs">d</text><text class="cm4" x="182.7" y="498.1" font-size="20.5" font-style="italic" textLength="11.6" lengthAdjust="spacingAndGlyphs">d</text><text class="cm4" x="196.4" y="500.5" font-size="16" font-style="italic">f</text><text class="cm4" x="207.2" y="498.1" font-size="20.5">)</text><text class="cm4" x="225.8" y="498.1" font-size="20.5">(</text><text class="cm4" x="232.5" y="498.1" font-size="20.5" font-style="italic" textLength="11.6" lengthAdjust="spacingAndGlyphs">d</text><text class="cm4" x="244.3" y="501.3" font-size="15" font-style="italic">i</text><text class="cm4" x="275.2" y="498.1" font-size="20.5" font-style="italic" textLength="11.6" lengthAdjust="spacingAndGlyphs">d</text><text class="cm4" x="288.5" y="498.1" font-size="20.5">)</text><path d="M162.2 493.4 H175.2 M255.2 493.4 H268.3 M215.7 503 L225 483.6" stroke="#000" stroke-width="1.05" fill="none"/>
<rect x="74.5" y="216.6" width="117.4" height="51.7" fill="#fff" stroke="#000" stroke-width="1.1"/>
<path d="M80.7 226.8 H103" stroke="#000" stroke-width="1.8" stroke-dasharray="1.7 5 8.9 5" fill="none"/>
<text x="113.6" y="232.1" font-size="15">Potential I</text>
<path d="M80.7 243 H103" stroke="#f00" stroke-width="1.8" stroke-dasharray="8.9 4.5" fill="none"/>
<text x="113.6" y="248.3" font-size="15">Potential II</text>
<path d="M80.7 259 H103" stroke="#008b00" stroke-width="1.8" fill="none"/>
<text x="113.6" y="264.3" font-size="15">Potential III</text>
</svg>
</body></html>
